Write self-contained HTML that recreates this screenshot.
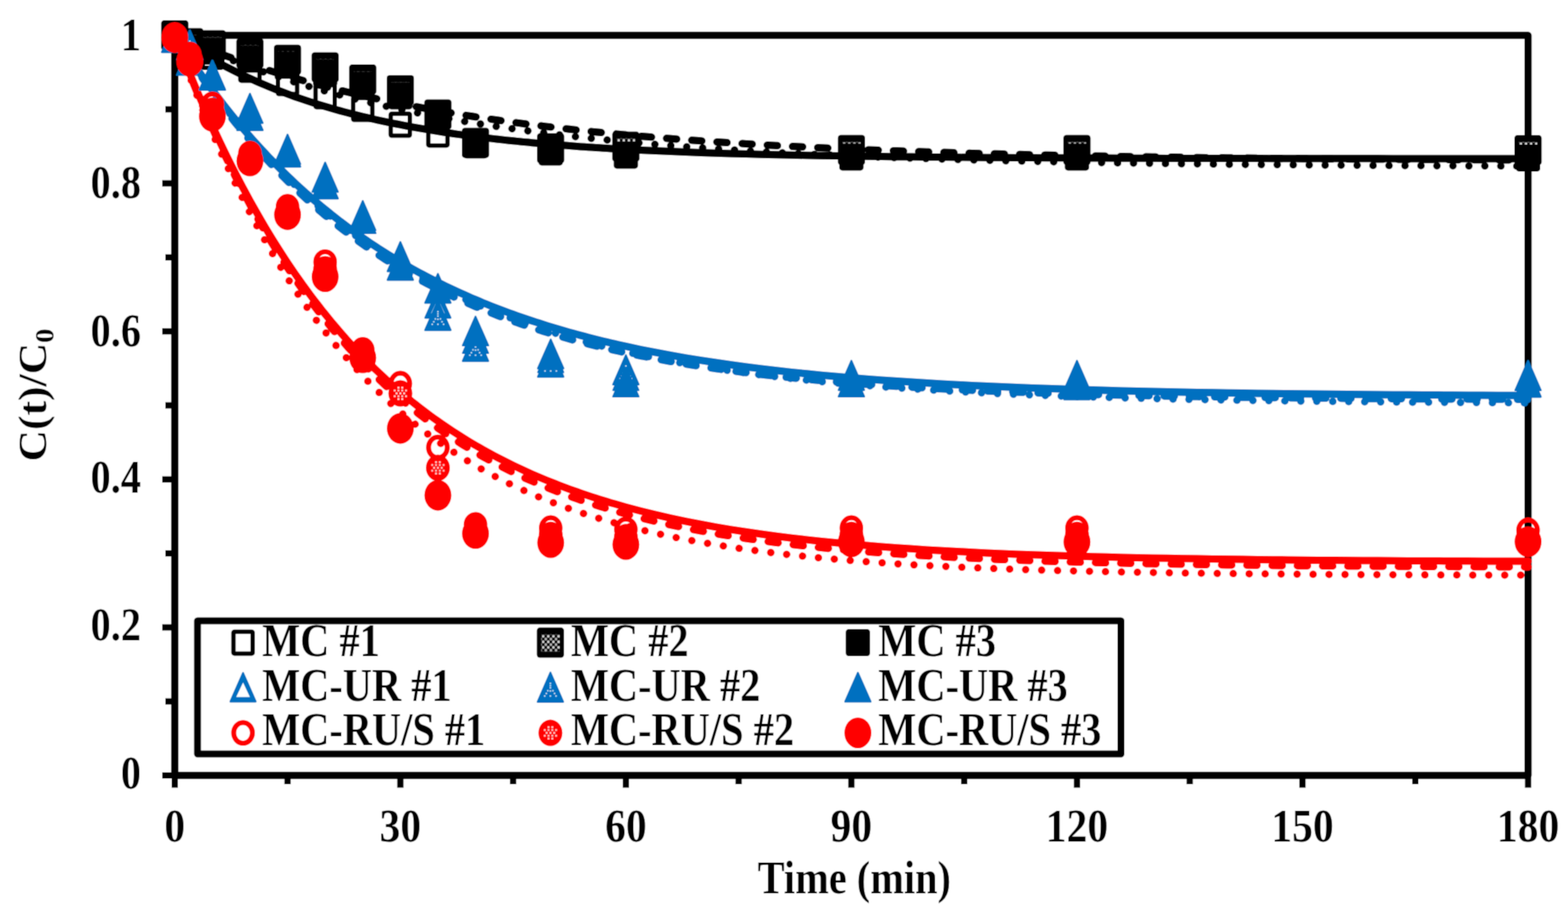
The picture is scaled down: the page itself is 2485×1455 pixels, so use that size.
<!DOCTYPE html><html><head><meta charset="utf-8"><style>html,body{margin:0;padding:0;background:#fff}svg{display:block}</style></head><body>
<svg width="2485" height="1455" viewBox="0 0 2485 1455">
<filter id="soft" x="0" y="0" width="100%" height="100%" filterUnits="userSpaceOnUse"><feConvolveMatrix order="3" kernelMatrix="1 2 1 2 4 2 1 2 1" divisor="16" edgeMode="duplicate" preserveAlpha="true"/></filter>
<g filter="url(#soft)">
<rect width="100%" height="100%" fill="#fff"/>
<defs>
<pattern id="pk" patternUnits="userSpaceOnUse" width="8.1" height="8.8"><rect width="8.1" height="8.8" fill="#000"/><rect x="0.2" y="0.2" width="3.6" height="4" fill="#fff"/><rect x="4.25" y="4.6" width="3.6" height="4" fill="#ddd"/></pattern>
</defs>
<g fill="none" stroke="#000" stroke-width="11.5" stroke-linejoin="round" stroke-linecap="butt">
<rect x="277.0" y="56" width="2144.7" height="1173.0"/>
</g>
<g stroke="#000" stroke-width="10">
<line x1="257" y1="1229.0" x2="277.0" y2="1229.0"/>
<line x1="262" y1="1111.7" x2="277.0" y2="1111.7"/>
<line x1="257" y1="994.4" x2="277.0" y2="994.4"/>
<line x1="262" y1="877.1" x2="277.0" y2="877.1"/>
<line x1="257" y1="759.8" x2="277.0" y2="759.8"/>
<line x1="262" y1="642.5" x2="277.0" y2="642.5"/>
<line x1="257" y1="525.2" x2="277.0" y2="525.2"/>
<line x1="262" y1="407.9" x2="277.0" y2="407.9"/>
<line x1="257" y1="290.6" x2="277.0" y2="290.6"/>
<line x1="262" y1="173.3" x2="277.0" y2="173.3"/>
<line x1="257" y1="56.0" x2="277.0" y2="56.0"/>
<line x1="277.0" y1="1229.0" x2="277.0" y2="1248.5"/>
<line x1="455.7" y1="1229.0" x2="455.7" y2="1243"/>
<line x1="634.5" y1="1229.0" x2="634.5" y2="1248.5"/>
<line x1="813.2" y1="1229.0" x2="813.2" y2="1243"/>
<line x1="991.9" y1="1229.0" x2="991.9" y2="1248.5"/>
<line x1="1170.6" y1="1229.0" x2="1170.6" y2="1243"/>
<line x1="1349.3" y1="1229.0" x2="1349.3" y2="1248.5"/>
<line x1="1528.1" y1="1229.0" x2="1528.1" y2="1243"/>
<line x1="1706.8" y1="1229.0" x2="1706.8" y2="1248.5"/>
<line x1="1885.5" y1="1229.0" x2="1885.5" y2="1243"/>
<line x1="2064.2" y1="1229.0" x2="2064.2" y2="1248.5"/>
<line x1="2243.0" y1="1229.0" x2="2243.0" y2="1243"/>
<line x1="2421.7" y1="1229.0" x2="2421.7" y2="1248.5"/>
</g>
<g id="lines">
<path d="M277.0,56.0 L283.0,60.2 L288.9,64.2 L294.9,68.2 L300.8,72.1 L306.8,75.9 L312.7,79.7 L318.7,83.3 L324.7,86.9 L330.6,90.4 L336.6,93.8 L342.5,97.2 L348.5,100.5 L354.4,103.7 L360.4,106.8 L366.4,109.9 L372.3,112.9 L378.3,115.9 L384.2,118.8 L390.2,121.6 L396.1,124.3 L402.1,127.0 L408.1,129.7 L414.0,132.3 L420.0,134.8 L425.9,137.3 L431.9,139.7 L437.9,142.1 L443.8,144.4 L449.8,146.7 L455.7,148.9 L461.7,151.1 L467.6,153.3 L473.6,155.4 L479.6,157.4 L485.5,159.4 L491.5,161.4 L497.4,163.3 L503.4,165.2 L509.3,167.0 L515.3,168.8 L521.3,170.6 L527.2,172.3 L533.2,174.0 L539.1,175.6 L545.1,177.2 L551.0,178.8 L557.0,180.4 L563.0,181.9 L568.9,183.4 L574.9,184.8 L580.8,186.2 L586.8,187.6 L592.7,189.0 L598.7,190.3 L604.7,191.6 L610.6,192.9 L616.6,194.1 L622.5,195.3 L628.5,196.5 L634.5,197.7 L640.4,198.9 L646.4,200.0 L652.3,201.1 L658.3,202.1 L664.2,203.2 L670.2,204.2 L676.2,205.2 L682.1,206.2 L688.1,207.2 L694.0,208.1 L700.0,209.0 L705.9,210.0 L711.9,210.8 L717.9,211.7 L723.8,212.6 L729.8,213.4 L735.7,214.2 L741.7,215.0 L747.6,215.8 L753.6,216.5 L759.6,217.3 L765.5,218.0 L771.5,218.7 L777.4,219.4 L783.4,220.1 L789.3,220.8 L795.3,221.4 L801.3,222.1 L807.2,222.7 L813.2,223.3 L819.1,223.9 L825.1,224.5 L831.0,225.1 L837.0,225.6 L843.0,226.2 L848.9,226.7 L854.9,227.2 L860.8,227.8 L866.8,228.3 L872.8,228.8 L878.7,229.2 L884.7,229.7 L890.6,230.2 L896.6,230.6 L902.5,231.1 L908.5,231.5 L914.5,231.9 L920.4,232.4 L926.4,232.8 L932.3,233.2 L938.3,233.6 L944.2,233.9 L950.2,234.3 L956.2,234.7 L962.1,235.0 L968.1,235.4 L974.0,235.7 L980.0,236.1 L985.9,236.4 L991.9,236.7 L1015.7,237.9 L1039.6,239.1 L1063.4,240.1 L1087.2,241.0 L1111.0,241.9 L1134.9,242.7 L1158.7,243.4 L1182.5,244.1 L1206.4,244.7 L1230.2,245.3 L1254.0,245.8 L1277.9,246.3 L1301.7,246.7 L1325.5,247.1 L1349.3,247.5 L1373.2,247.8 L1397.0,248.1 L1420.8,248.4 L1444.7,248.6 L1468.5,248.9 L1492.3,249.1 L1516.2,249.3 L1540.0,249.5 L1563.8,249.7 L1587.6,249.8 L1611.5,250.0 L1635.3,250.1 L1659.1,250.2 L1683.0,250.3 L1706.8,250.4 L1730.6,250.5 L1754.5,250.6 L1778.3,250.7 L1802.1,250.7 L1825.9,250.8 L1849.8,250.9 L1873.6,250.9 L1897.4,251.0 L1921.3,251.0 L1945.1,251.1 L1968.9,251.1 L1992.8,251.1 L2016.6,251.2 L2040.4,251.2 L2064.2,251.2 L2088.1,251.3 L2111.9,251.3 L2135.7,251.3 L2159.6,251.3 L2183.4,251.3 L2207.2,251.4 L2231.1,251.4 L2254.9,251.4 L2278.7,251.4 L2302.6,251.4 L2326.4,251.4 L2350.2,251.4 L2374.0,251.4 L2397.9,251.4 L2421.7,251.5" fill="none" stroke="#000000" stroke-width="12" stroke-linejoin="round" stroke-linecap="round"/>
<path d="M277.0,56.0 L283.0,58.6 L288.9,61.1 L294.9,63.7 L300.8,66.1 L306.8,68.6 L312.7,71.0 L318.7,73.4 L324.7,75.8 L330.6,78.1 L336.6,80.4 L342.5,82.7 L348.5,84.9 L354.4,87.1 L360.4,89.3 L366.4,91.5 L372.3,93.6 L378.3,95.7 L384.2,97.7 L390.2,99.8 L396.1,101.8 L402.1,103.8 L408.1,105.8 L414.0,107.7 L420.0,109.6 L425.9,111.5 L431.9,113.4 L437.9,115.2 L443.8,117.0 L449.8,118.8 L455.7,120.6 L461.7,122.3 L467.6,124.1 L473.6,125.8 L479.6,127.5 L485.5,129.1 L491.5,130.8 L497.4,132.4 L503.4,134.0 L509.3,135.5 L515.3,137.1 L521.3,138.6 L527.2,140.1 L533.2,141.6 L539.1,143.1 L545.1,144.6 L551.0,146.0 L557.0,147.4 L563.0,148.8 L568.9,150.2 L574.9,151.6 L580.8,152.9 L586.8,154.2 L592.7,155.6 L598.7,156.9 L604.7,158.1 L610.6,159.4 L616.6,160.6 L622.5,161.9 L628.5,163.1 L634.5,164.3 L640.4,165.5 L646.4,166.6 L652.3,167.8 L658.3,168.9 L664.2,170.0 L670.2,171.1 L676.2,172.2 L682.1,173.3 L688.1,174.4 L694.0,175.4 L700.0,176.5 L705.9,177.5 L711.9,178.5 L717.9,179.5 L723.8,180.5 L729.8,181.4 L735.7,182.4 L741.7,183.4 L747.6,184.3 L753.6,185.2 L759.6,186.1 L765.5,187.0 L771.5,187.9 L777.4,188.8 L783.4,189.6 L789.3,190.5 L795.3,191.3 L801.3,192.2 L807.2,193.0 L813.2,193.8 L819.1,194.6 L825.1,195.4 L831.0,196.2 L837.0,196.9 L843.0,197.7 L848.9,198.4 L854.9,199.2 L860.8,199.9 L866.8,200.6 L872.8,201.3 L878.7,202.0 L884.7,202.7 L890.6,203.4 L896.6,204.1 L902.5,204.8 L908.5,205.4 L914.5,206.1 L920.4,206.7 L926.4,207.3 L932.3,208.0 L938.3,208.6 L944.2,209.2 L950.2,209.8 L956.2,210.4 L962.1,210.9 L968.1,211.5 L974.0,212.1 L980.0,212.7 L985.9,213.2 L991.9,213.8 L1015.7,215.9 L1039.6,217.9 L1063.4,219.8 L1087.2,221.6 L1111.0,223.3 L1134.9,225.0 L1158.7,226.5 L1182.5,228.0 L1206.4,229.4 L1230.2,230.7 L1254.0,232.0 L1277.9,233.1 L1301.7,234.3 L1325.5,235.4 L1349.3,236.4 L1373.2,237.3 L1397.0,238.3 L1420.8,239.1 L1444.7,240.0 L1468.5,240.7 L1492.3,241.5 L1516.2,242.2 L1540.0,242.9 L1563.8,243.5 L1587.6,244.1 L1611.5,244.7 L1635.3,245.2 L1659.1,245.8 L1683.0,246.2 L1706.8,246.7 L1730.6,247.2 L1754.5,247.6 L1778.3,248.0 L1802.1,248.3 L1825.9,248.7 L1849.8,249.0 L1873.6,249.4 L1897.4,249.7 L1921.3,250.0 L1945.1,250.2 L1968.9,250.5 L1992.8,250.8 L2016.6,251.0 L2040.4,251.2 L2064.2,251.4 L2088.1,251.6 L2111.9,251.8 L2135.7,252.0 L2159.6,252.2 L2183.4,252.3 L2207.2,252.5 L2231.1,252.7 L2254.9,252.8 L2278.7,252.9 L2302.6,253.1 L2326.4,253.2 L2350.2,253.3 L2374.0,253.4 L2397.9,253.5 L2421.7,253.6" fill="none" stroke="#000000" stroke-width="12" stroke-dasharray="16 24" stroke-linejoin="round" stroke-linecap="round"/>
<path d="M277.0,56.0 L283.0,58.9 L288.9,61.7 L294.9,64.4 L300.8,67.2 L306.8,69.9 L312.7,72.5 L318.7,75.2 L324.7,77.7 L330.6,80.3 L336.6,82.8 L342.5,85.3 L348.5,87.8 L354.4,90.2 L360.4,92.6 L366.4,94.9 L372.3,97.2 L378.3,99.5 L384.2,101.8 L390.2,104.0 L396.1,106.2 L402.1,108.4 L408.1,110.5 L414.0,112.6 L420.0,114.7 L425.9,116.7 L431.9,118.8 L437.9,120.8 L443.8,122.7 L449.8,124.7 L455.7,126.6 L461.7,128.5 L467.6,130.3 L473.6,132.2 L479.6,134.0 L485.5,135.8 L491.5,137.5 L497.4,139.3 L503.4,141.0 L509.3,142.7 L515.3,144.3 L521.3,146.0 L527.2,147.6 L533.2,149.2 L539.1,150.8 L545.1,152.3 L551.0,153.9 L557.0,155.4 L563.0,156.9 L568.9,158.4 L574.9,159.8 L580.8,161.2 L586.8,162.7 L592.7,164.0 L598.7,165.4 L604.7,166.8 L610.6,168.1 L616.6,169.4 L622.5,170.7 L628.5,172.0 L634.5,173.3 L640.4,174.5 L646.4,175.8 L652.3,177.0 L658.3,178.2 L664.2,179.4 L670.2,180.5 L676.2,181.7 L682.1,182.8 L688.1,183.9 L694.0,185.0 L700.0,186.1 L705.9,187.2 L711.9,188.3 L717.9,189.3 L723.8,190.3 L729.8,191.4 L735.7,192.4 L741.7,193.4 L747.6,194.3 L753.6,195.3 L759.6,196.2 L765.5,197.2 L771.5,198.1 L777.4,199.0 L783.4,199.9 L789.3,200.8 L795.3,201.7 L801.3,202.5 L807.2,203.4 L813.2,204.2 L819.1,205.0 L825.1,205.9 L831.0,206.7 L837.0,207.5 L843.0,208.2 L848.9,209.0 L854.9,209.8 L860.8,210.5 L866.8,211.3 L872.8,212.0 L878.7,212.7 L884.7,213.4 L890.6,214.1 L896.6,214.8 L902.5,215.5 L908.5,216.2 L914.5,216.8 L920.4,217.5 L926.4,218.1 L932.3,218.8 L938.3,219.4 L944.2,220.0 L950.2,220.6 L956.2,221.2 L962.1,221.8 L968.1,222.4 L974.0,223.0 L980.0,223.6 L985.9,224.1 L991.9,224.7 L1015.7,226.8 L1039.6,228.9 L1063.4,230.8 L1087.2,232.6 L1111.0,234.3 L1134.9,236.0 L1158.7,237.5 L1182.5,239.0 L1206.4,240.4 L1230.2,241.7 L1254.0,242.9 L1277.9,244.1 L1301.7,245.2 L1325.5,246.2 L1349.3,247.2 L1373.2,248.2 L1397.0,249.1 L1420.8,249.9 L1444.7,250.7 L1468.5,251.4 L1492.3,252.2 L1516.2,252.8 L1540.0,253.5 L1563.8,254.1 L1587.6,254.7 L1611.5,255.2 L1635.3,255.7 L1659.1,256.2 L1683.0,256.7 L1706.8,257.1 L1730.6,257.5 L1754.5,257.9 L1778.3,258.3 L1802.1,258.6 L1825.9,258.9 L1849.8,259.3 L1873.6,259.6 L1897.4,259.8 L1921.3,260.1 L1945.1,260.4 L1968.9,260.6 L1992.8,260.8 L2016.6,261.0 L2040.4,261.2 L2064.2,261.4 L2088.1,261.6 L2111.9,261.8 L2135.7,261.9 L2159.6,262.1 L2183.4,262.2 L2207.2,262.4 L2231.1,262.5 L2254.9,262.6 L2278.7,262.7 L2302.6,262.8 L2326.4,263.0 L2350.2,263.0 L2374.0,263.1 L2397.9,263.2 L2421.7,263.3" fill="none" stroke="#000000" stroke-width="12" stroke-dasharray="0.01 25.3" stroke-linecap="round"/>
<path d="M277.0,56.0 L283.0,65.3 L288.9,74.5 L294.9,83.6 L300.8,92.5 L306.8,101.2 L312.7,109.8 L318.7,118.3 L324.7,126.6 L330.6,134.8 L336.6,142.8 L342.5,150.7 L348.5,158.5 L354.4,166.2 L360.4,173.8 L366.4,181.2 L372.3,188.5 L378.3,195.6 L384.2,202.7 L390.2,209.7 L396.1,216.5 L402.1,223.2 L408.1,229.8 L414.0,236.3 L420.0,242.7 L425.9,249.0 L431.9,255.2 L437.9,261.3 L443.8,267.3 L449.8,273.2 L455.7,279.0 L461.7,284.7 L467.6,290.3 L473.6,295.8 L479.6,301.2 L485.5,306.6 L491.5,311.8 L497.4,317.0 L503.4,322.1 L509.3,327.1 L515.3,332.0 L521.3,336.8 L527.2,341.6 L533.2,346.2 L539.1,350.9 L545.1,355.4 L551.0,359.8 L557.0,364.2 L563.0,368.5 L568.9,372.8 L574.9,376.9 L580.8,381.0 L586.8,385.1 L592.7,389.0 L598.7,393.0 L604.7,396.8 L610.6,400.6 L616.6,404.3 L622.5,407.9 L628.5,411.5 L634.5,415.1 L640.4,418.6 L646.4,422.0 L652.3,425.4 L658.3,428.7 L664.2,431.9 L670.2,435.1 L676.2,438.3 L682.1,441.4 L688.1,444.4 L694.0,447.4 L700.0,450.4 L705.9,453.3 L711.9,456.2 L717.9,459.0 L723.8,461.7 L729.8,464.5 L735.7,467.1 L741.7,469.8 L747.6,472.4 L753.6,474.9 L759.6,477.4 L765.5,479.9 L771.5,482.3 L777.4,484.7 L783.4,487.0 L789.3,489.3 L795.3,491.6 L801.3,493.8 L807.2,496.0 L813.2,498.2 L819.1,500.3 L825.1,502.4 L831.0,504.5 L837.0,506.5 L843.0,508.5 L848.9,510.4 L854.9,512.3 L860.8,514.2 L866.8,516.1 L872.8,517.9 L878.7,519.7 L884.7,521.5 L890.6,523.3 L896.6,525.0 L902.5,526.7 L908.5,528.3 L914.5,530.0 L920.4,531.6 L926.4,533.1 L932.3,534.7 L938.3,536.2 L944.2,537.7 L950.2,539.2 L956.2,540.7 L962.1,542.1 L968.1,543.5 L974.0,544.9 L980.0,546.3 L985.9,547.6 L991.9,548.9 L1015.7,554.0 L1039.6,558.7 L1063.4,563.2 L1087.2,567.3 L1111.0,571.2 L1134.9,574.8 L1158.7,578.3 L1182.5,581.5 L1206.4,584.4 L1230.2,587.2 L1254.0,589.9 L1277.9,592.3 L1301.7,594.6 L1325.5,596.8 L1349.3,598.8 L1373.2,600.7 L1397.0,602.4 L1420.8,604.1 L1444.7,605.6 L1468.5,607.1 L1492.3,608.5 L1516.2,609.7 L1540.0,610.9 L1563.8,612.0 L1587.6,613.1 L1611.5,614.1 L1635.3,615.0 L1659.1,615.8 L1683.0,616.6 L1706.8,617.4 L1730.6,618.1 L1754.5,618.7 L1778.3,619.4 L1802.1,619.9 L1825.9,620.5 L1849.8,621.0 L1873.6,621.5 L1897.4,621.9 L1921.3,622.3 L1945.1,622.7 L1968.9,623.1 L1992.8,623.4 L2016.6,623.7 L2040.4,624.0 L2064.2,624.3 L2088.1,624.6 L2111.9,624.8 L2135.7,625.0 L2159.6,625.3 L2183.4,625.5 L2207.2,625.7 L2231.1,625.8 L2254.9,626.0 L2278.7,626.1 L2302.6,626.3 L2326.4,626.4 L2350.2,626.6 L2374.0,626.7 L2397.9,626.8 L2421.7,626.9" fill="none" stroke="#0070C0" stroke-width="12" stroke-linejoin="round" stroke-linecap="round"/>
<path d="M277.0,56.0 L283.0,65.7 L288.9,75.3 L294.9,84.8 L300.8,94.0 L306.8,103.1 L312.7,112.1 L318.7,120.9 L324.7,129.5 L330.6,138.0 L336.6,146.4 L342.5,154.6 L348.5,162.7 L354.4,170.7 L360.4,178.5 L366.4,186.2 L372.3,193.7 L378.3,201.1 L384.2,208.4 L390.2,215.6 L396.1,222.7 L402.1,229.6 L408.1,236.4 L414.0,243.1 L420.0,249.7 L425.9,256.2 L431.9,262.6 L437.9,268.9 L443.8,275.0 L449.8,281.1 L455.7,287.0 L461.7,292.9 L467.6,298.6 L473.6,304.3 L479.6,309.9 L485.5,315.3 L491.5,320.7 L497.4,326.0 L503.4,331.2 L509.3,336.3 L515.3,341.3 L521.3,346.3 L527.2,351.1 L533.2,355.9 L539.1,360.6 L545.1,365.2 L551.0,369.7 L557.0,374.2 L563.0,378.6 L568.9,382.9 L574.9,387.1 L580.8,391.3 L586.8,395.4 L592.7,399.4 L598.7,403.4 L604.7,407.3 L610.6,411.1 L616.6,414.9 L622.5,418.5 L628.5,422.2 L634.5,425.8 L640.4,429.3 L646.4,432.7 L652.3,436.1 L658.3,439.5 L664.2,442.8 L670.2,446.0 L676.2,449.2 L682.1,452.3 L688.1,455.3 L694.0,458.4 L700.0,461.3 L705.9,464.2 L711.9,467.1 L717.9,469.9 L723.8,472.7 L729.8,475.4 L735.7,478.1 L741.7,480.7 L747.6,483.3 L753.6,485.9 L759.6,488.4 L765.5,490.8 L771.5,493.2 L777.4,495.6 L783.4,498.0 L789.3,500.3 L795.3,502.5 L801.3,504.7 L807.2,506.9 L813.2,509.1 L819.1,511.2 L825.1,513.3 L831.0,515.3 L837.0,517.3 L843.0,519.3 L848.9,521.2 L854.9,523.1 L860.8,525.0 L866.8,526.8 L872.8,528.6 L878.7,530.4 L884.7,532.2 L890.6,533.9 L896.6,535.6 L902.5,537.3 L908.5,538.9 L914.5,540.5 L920.4,542.1 L926.4,543.6 L932.3,545.2 L938.3,546.7 L944.2,548.1 L950.2,549.6 L956.2,551.0 L962.1,552.4 L968.1,553.8 L974.0,555.2 L980.0,556.5 L985.9,557.8 L991.9,559.1 L1015.7,564.0 L1039.6,568.7 L1063.4,573.0 L1087.2,577.0 L1111.0,580.8 L1134.9,584.3 L1158.7,587.6 L1182.5,590.6 L1206.4,593.5 L1230.2,596.2 L1254.0,598.7 L1277.9,601.0 L1301.7,603.2 L1325.5,605.3 L1349.3,607.2 L1373.2,609.0 L1397.0,610.6 L1420.8,612.2 L1444.7,613.6 L1468.5,615.0 L1492.3,616.3 L1516.2,617.4 L1540.0,618.6 L1563.8,619.6 L1587.6,620.6 L1611.5,621.5 L1635.3,622.3 L1659.1,623.1 L1683.0,623.8 L1706.8,624.5 L1730.6,625.2 L1754.5,625.8 L1778.3,626.3 L1802.1,626.8 L1825.9,627.3 L1849.8,627.8 L1873.6,628.2 L1897.4,628.6 L1921.3,629.0 L1945.1,629.3 L1968.9,629.7 L1992.8,630.0 L2016.6,630.2 L2040.4,630.5 L2064.2,630.8 L2088.1,631.0 L2111.9,631.2 L2135.7,631.4 L2159.6,631.6 L2183.4,631.8 L2207.2,631.9 L2231.1,632.1 L2254.9,632.2 L2278.7,632.4 L2302.6,632.5 L2326.4,632.6 L2350.2,632.7 L2374.0,632.8 L2397.9,632.9 L2421.7,633.0" fill="none" stroke="#0070C0" stroke-width="12" stroke-dasharray="16 24" stroke-linejoin="round" stroke-linecap="round"/>
<path d="M277.0,56.0 L283.0,65.4 L288.9,74.7 L294.9,83.9 L300.8,92.9 L306.8,101.7 L312.7,110.4 L318.7,119.0 L324.7,127.4 L330.6,135.7 L336.6,143.9 L342.5,151.9 L348.5,159.8 L354.4,167.5 L360.4,175.2 L366.4,182.7 L372.3,190.1 L378.3,197.4 L384.2,204.5 L390.2,211.6 L396.1,218.5 L402.1,225.3 L408.1,232.0 L414.0,238.6 L420.0,245.1 L425.9,251.5 L431.9,257.8 L437.9,264.0 L443.8,270.1 L449.8,276.0 L455.7,281.9 L461.7,287.7 L467.6,293.4 L473.6,299.0 L479.6,304.5 L485.5,310.0 L491.5,315.3 L497.4,320.6 L503.4,325.7 L509.3,330.8 L515.3,335.8 L521.3,340.7 L527.2,345.6 L533.2,350.3 L539.1,355.0 L545.1,359.6 L551.0,364.2 L557.0,368.6 L563.0,373.0 L568.9,377.3 L574.9,381.6 L580.8,385.8 L586.8,389.9 L592.7,393.9 L598.7,397.9 L604.7,401.8 L610.6,405.7 L616.6,409.5 L622.5,413.2 L628.5,416.9 L634.5,420.5 L640.4,424.0 L646.4,427.5 L652.3,431.0 L658.3,434.3 L664.2,437.7 L670.2,440.9 L676.2,444.2 L682.1,447.3 L688.1,450.5 L694.0,453.5 L700.0,456.5 L705.9,459.5 L711.9,462.4 L717.9,465.3 L723.8,468.1 L729.8,470.9 L735.7,473.6 L741.7,476.3 L747.6,479.0 L753.6,481.6 L759.6,484.2 L765.5,486.7 L771.5,489.2 L777.4,491.6 L783.4,494.0 L789.3,496.4 L795.3,498.7 L801.3,501.0 L807.2,503.2 L813.2,505.4 L819.1,507.6 L825.1,509.8 L831.0,511.9 L837.0,513.9 L843.0,516.0 L848.9,518.0 L854.9,520.0 L860.8,521.9 L866.8,523.8 L872.8,525.7 L878.7,527.6 L884.7,529.4 L890.6,531.2 L896.6,532.9 L902.5,534.7 L908.5,536.4 L914.5,538.0 L920.4,539.7 L926.4,541.3 L932.3,542.9 L938.3,544.5 L944.2,546.0 L950.2,547.6 L956.2,549.1 L962.1,550.5 L968.1,552.0 L974.0,553.4 L980.0,554.8 L985.9,556.2 L991.9,557.5 L1015.7,562.8 L1039.6,567.6 L1063.4,572.2 L1087.2,576.5 L1111.0,580.5 L1134.9,584.3 L1158.7,587.8 L1182.5,591.1 L1206.4,594.2 L1230.2,597.1 L1254.0,599.8 L1277.9,602.4 L1301.7,604.8 L1325.5,607.0 L1349.3,609.1 L1373.2,611.0 L1397.0,612.9 L1420.8,614.6 L1444.7,616.2 L1468.5,617.7 L1492.3,619.1 L1516.2,620.5 L1540.0,621.7 L1563.8,622.9 L1587.6,624.0 L1611.5,625.0 L1635.3,625.9 L1659.1,626.8 L1683.0,627.7 L1706.8,628.5 L1730.6,629.2 L1754.5,629.9 L1778.3,630.5 L1802.1,631.2 L1825.9,631.7 L1849.8,632.3 L1873.6,632.8 L1897.4,633.2 L1921.3,633.7 L1945.1,634.1 L1968.9,634.5 L1992.8,634.8 L2016.6,635.1 L2040.4,635.5 L2064.2,635.8 L2088.1,636.0 L2111.9,636.3 L2135.7,636.5 L2159.6,636.8 L2183.4,637.0 L2207.2,637.2 L2231.1,637.4 L2254.9,637.5 L2278.7,637.7 L2302.6,637.9 L2326.4,638.0 L2350.2,638.1 L2374.0,638.3 L2397.9,638.4 L2421.7,638.5" fill="none" stroke="#0070C0" stroke-width="12" stroke-dasharray="0.01 25.3" stroke-linecap="round"/>
<path d="M277.0,56.0 L283.0,71.6 L288.9,86.9 L294.9,101.9 L300.8,116.6 L306.8,131.1 L312.7,145.2 L318.7,159.2 L324.7,172.8 L330.6,186.2 L336.6,199.4 L342.5,212.3 L348.5,225.0 L354.4,237.4 L360.4,249.6 L366.4,261.6 L372.3,273.3 L378.3,284.8 L384.2,296.1 L390.2,307.2 L396.1,318.1 L402.1,328.8 L408.1,339.3 L414.0,349.6 L420.0,359.7 L425.9,369.6 L431.9,379.3 L437.9,388.9 L443.8,398.3 L449.8,407.5 L455.7,416.5 L461.7,425.3 L467.6,434.0 L473.6,442.5 L479.6,450.9 L485.5,459.1 L491.5,467.2 L497.4,475.1 L503.4,482.8 L509.3,490.5 L515.3,497.9 L521.3,505.3 L527.2,512.5 L533.2,519.5 L539.1,526.4 L545.1,533.2 L551.0,539.9 L557.0,546.5 L563.0,552.9 L568.9,559.2 L574.9,565.4 L580.8,571.5 L586.8,577.4 L592.7,583.3 L598.7,589.0 L604.7,594.6 L610.6,600.2 L616.6,605.6 L622.5,610.9 L628.5,616.1 L634.5,621.3 L640.4,626.3 L646.4,631.2 L652.3,636.1 L658.3,640.8 L664.2,645.5 L670.2,650.1 L676.2,654.6 L682.1,659.0 L688.1,663.3 L694.0,667.5 L700.0,671.7 L705.9,675.8 L711.9,679.8 L717.9,683.7 L723.8,687.6 L729.8,691.4 L735.7,695.1 L741.7,698.8 L747.6,702.3 L753.6,705.9 L759.6,709.3 L765.5,712.7 L771.5,716.0 L777.4,719.3 L783.4,722.5 L789.3,725.6 L795.3,728.7 L801.3,731.7 L807.2,734.7 L813.2,737.6 L819.1,740.4 L825.1,743.2 L831.0,746.0 L837.0,748.7 L843.0,751.4 L848.9,754.0 L854.9,756.5 L860.8,759.0 L866.8,761.5 L872.8,763.9 L878.7,766.2 L884.7,768.6 L890.6,770.8 L896.6,773.1 L902.5,775.3 L908.5,777.4 L914.5,779.5 L920.4,781.6 L926.4,783.6 L932.3,785.6 L938.3,787.6 L944.2,789.5 L950.2,791.4 L956.2,793.3 L962.1,795.1 L968.1,796.9 L974.0,798.6 L980.0,800.3 L985.9,802.0 L991.9,803.7 L1015.7,810.0 L1039.6,815.8 L1063.4,821.3 L1087.2,826.3 L1111.0,831.0 L1134.9,835.3 L1158.7,839.3 L1182.5,843.0 L1206.4,846.5 L1230.2,849.7 L1254.0,852.7 L1277.9,855.4 L1301.7,858.0 L1325.5,860.3 L1349.3,862.5 L1373.2,864.6 L1397.0,866.5 L1420.8,868.2 L1444.7,869.8 L1468.5,871.4 L1492.3,872.7 L1516.2,874.0 L1540.0,875.2 L1563.8,876.4 L1587.6,877.4 L1611.5,878.4 L1635.3,879.2 L1659.1,880.1 L1683.0,880.8 L1706.8,881.5 L1730.6,882.2 L1754.5,882.8 L1778.3,883.4 L1802.1,883.9 L1825.9,884.4 L1849.8,884.8 L1873.6,885.2 L1897.4,885.6 L1921.3,886.0 L1945.1,886.3 L1968.9,886.6 L1992.8,886.9 L2016.6,887.2 L2040.4,887.4 L2064.2,887.7 L2088.1,887.9 L2111.9,888.1 L2135.7,888.3 L2159.6,888.4 L2183.4,888.6 L2207.2,888.7 L2231.1,888.9 L2254.9,889.0 L2278.7,889.1 L2302.6,889.2 L2326.4,889.3 L2350.2,889.4 L2374.0,889.5 L2397.9,889.6 L2421.7,889.6" fill="none" stroke="#FF0000" stroke-width="12" stroke-linejoin="round" stroke-linecap="round"/>
<path d="M277.0,56.0 L283.0,72.0 L288.9,87.7 L294.9,103.1 L300.8,118.2 L306.8,133.0 L312.7,147.5 L318.7,161.8 L324.7,175.8 L330.6,189.5 L336.6,203.0 L342.5,216.2 L348.5,229.2 L354.4,241.9 L360.4,254.3 L366.4,266.6 L372.3,278.6 L378.3,290.4 L384.2,301.9 L390.2,313.2 L396.1,324.4 L402.1,335.3 L408.1,346.0 L414.0,356.5 L420.0,366.8 L425.9,376.9 L431.9,386.8 L437.9,396.5 L443.8,406.0 L449.8,415.4 L455.7,424.6 L461.7,433.6 L467.6,442.4 L473.6,451.1 L479.6,459.6 L485.5,467.9 L491.5,476.1 L497.4,484.1 L503.4,492.0 L509.3,499.7 L515.3,507.3 L521.3,514.8 L527.2,522.1 L533.2,529.2 L539.1,536.2 L545.1,543.1 L551.0,549.9 L557.0,556.5 L563.0,563.0 L568.9,569.4 L574.9,575.7 L580.8,581.8 L586.8,587.8 L592.7,593.7 L598.7,599.5 L604.7,605.2 L610.6,610.8 L616.6,616.3 L622.5,621.6 L628.5,626.9 L634.5,632.1 L640.4,637.1 L646.4,642.1 L652.3,647.0 L658.3,651.8 L664.2,656.5 L670.2,661.1 L676.2,665.6 L682.1,670.0 L688.1,674.4 L694.0,678.7 L700.0,682.8 L705.9,687.0 L711.9,691.0 L717.9,694.9 L723.8,698.8 L729.8,702.6 L735.7,706.4 L741.7,710.0 L747.6,713.6 L753.6,717.1 L759.6,720.6 L765.5,724.0 L771.5,727.3 L777.4,730.6 L783.4,733.8 L789.3,736.9 L795.3,740.0 L801.3,743.0 L807.2,746.0 L813.2,748.9 L819.1,751.7 L825.1,754.5 L831.0,757.3 L837.0,760.0 L843.0,762.6 L848.9,765.2 L854.9,767.8 L860.8,770.3 L866.8,772.7 L872.8,775.1 L878.7,777.5 L884.7,779.8 L890.6,782.1 L896.6,784.3 L902.5,786.5 L908.5,788.6 L914.5,790.7 L920.4,792.8 L926.4,794.8 L932.3,796.8 L938.3,798.7 L944.2,800.6 L950.2,802.5 L956.2,804.3 L962.1,806.1 L968.1,807.9 L974.0,809.7 L980.0,811.4 L985.9,813.0 L991.9,814.7 L1015.7,820.9 L1039.6,826.7 L1063.4,832.1 L1087.2,837.0 L1111.0,841.6 L1134.9,845.9 L1158.7,849.8 L1182.5,853.5 L1206.4,856.9 L1230.2,860.0 L1254.0,862.9 L1277.9,865.6 L1301.7,868.1 L1325.5,870.4 L1349.3,872.5 L1373.2,874.5 L1397.0,876.3 L1420.8,878.0 L1444.7,879.6 L1468.5,881.1 L1492.3,882.4 L1516.2,883.7 L1540.0,884.8 L1563.8,885.9 L1587.6,886.9 L1611.5,887.8 L1635.3,888.7 L1659.1,889.5 L1683.0,890.2 L1706.8,890.9 L1730.6,891.5 L1754.5,892.1 L1778.3,892.6 L1802.1,893.1 L1825.9,893.6 L1849.8,894.0 L1873.6,894.4 L1897.4,894.8 L1921.3,895.1 L1945.1,895.4 L1968.9,895.7 L1992.8,896.0 L2016.6,896.2 L2040.4,896.5 L2064.2,896.7 L2088.1,896.9 L2111.9,897.1 L2135.7,897.2 L2159.6,897.4 L2183.4,897.5 L2207.2,897.7 L2231.1,897.8 L2254.9,897.9 L2278.7,898.0 L2302.6,898.1 L2326.4,898.2 L2350.2,898.3 L2374.0,898.4 L2397.9,898.5 L2421.7,898.5" fill="none" stroke="#FF0000" stroke-width="12" stroke-dasharray="16 24" stroke-linejoin="round" stroke-linecap="round"/>
<path d="M277.0,56.0 L283.0,72.9 L288.9,89.4 L294.9,105.6 L300.8,121.5 L306.8,137.1 L312.7,152.4 L318.7,167.3 L324.7,182.0 L330.6,196.4 L336.6,210.5 L342.5,224.3 L348.5,237.9 L354.4,251.2 L360.4,264.2 L366.4,277.0 L372.3,289.5 L378.3,301.8 L384.2,313.8 L390.2,325.6 L396.1,337.2 L402.1,348.5 L408.1,359.6 L414.0,370.5 L420.0,381.2 L425.9,391.6 L431.9,401.9 L437.9,411.9 L443.8,421.8 L449.8,431.5 L455.7,440.9 L461.7,450.2 L467.6,459.3 L473.6,468.3 L479.6,477.0 L485.5,485.6 L491.5,494.0 L497.4,502.2 L503.4,510.3 L509.3,518.2 L515.3,526.0 L521.3,533.6 L527.2,541.1 L533.2,548.4 L539.1,555.5 L545.1,562.6 L551.0,569.5 L557.0,576.2 L563.0,582.8 L568.9,589.3 L574.9,595.7 L580.8,601.9 L586.8,608.1 L592.7,614.0 L598.7,619.9 L604.7,625.7 L610.6,631.3 L616.6,636.9 L622.5,642.3 L628.5,647.6 L634.5,652.8 L640.4,657.9 L646.4,663.0 L652.3,667.9 L658.3,672.7 L664.2,677.4 L670.2,682.0 L676.2,686.6 L682.1,691.0 L688.1,695.4 L694.0,699.6 L700.0,703.8 L705.9,707.9 L711.9,712.0 L717.9,715.9 L723.8,719.8 L729.8,723.6 L735.7,727.3 L741.7,730.9 L747.6,734.5 L753.6,738.0 L759.6,741.5 L765.5,744.8 L771.5,748.1 L777.4,751.4 L783.4,754.5 L789.3,757.6 L795.3,760.7 L801.3,763.7 L807.2,766.6 L813.2,769.5 L819.1,772.3 L825.1,775.0 L831.0,777.7 L837.0,780.4 L843.0,783.0 L848.9,785.5 L854.9,788.0 L860.8,790.5 L866.8,792.9 L872.8,795.2 L878.7,797.5 L884.7,799.8 L890.6,802.0 L896.6,804.2 L902.5,806.3 L908.5,808.4 L914.5,810.5 L920.4,812.5 L926.4,814.4 L932.3,816.4 L938.3,818.3 L944.2,820.1 L950.2,821.9 L956.2,823.7 L962.1,825.4 L968.1,827.2 L974.0,828.8 L980.0,830.5 L985.9,832.1 L991.9,833.7 L1015.7,839.7 L1039.6,845.2 L1063.4,850.4 L1087.2,855.1 L1111.0,859.5 L1134.9,863.5 L1158.7,867.3 L1182.5,870.7 L1206.4,873.9 L1230.2,876.8 L1254.0,879.5 L1277.9,882.0 L1301.7,884.4 L1325.5,886.5 L1349.3,888.5 L1373.2,890.3 L1397.0,892.0 L1420.8,893.5 L1444.7,895.0 L1468.5,896.3 L1492.3,897.5 L1516.2,898.6 L1540.0,899.7 L1563.8,900.7 L1587.6,901.5 L1611.5,902.4 L1635.3,903.1 L1659.1,903.8 L1683.0,904.5 L1706.8,905.1 L1730.6,905.6 L1754.5,906.1 L1778.3,906.6 L1802.1,907.0 L1825.9,907.4 L1849.8,907.8 L1873.6,908.2 L1897.4,908.5 L1921.3,908.8 L1945.1,909.0 L1968.9,909.3 L1992.8,909.5 L2016.6,909.7 L2040.4,909.9 L2064.2,910.1 L2088.1,910.3 L2111.9,910.4 L2135.7,910.6 L2159.6,910.7 L2183.4,910.8 L2207.2,910.9 L2231.1,911.0 L2254.9,911.1 L2278.7,911.2 L2302.6,911.3 L2326.4,911.4 L2350.2,911.4 L2374.0,911.5 L2397.9,911.6 L2421.7,911.6" fill="none" stroke="#FF0000" stroke-width="12" stroke-dasharray="0.01 25.3" stroke-linecap="round"/>
</g>
<g id="markers">
<rect x="261.8" y="38.6" width="30.4" height="34.8" rx="1.5" fill="none" stroke="#000" stroke-width="7" stroke-linejoin="round"/>
<rect x="285.6" y="56.2" width="30.4" height="34.8" rx="1.5" fill="none" stroke="#000" stroke-width="7" stroke-linejoin="round"/>
<rect x="321.4" y="72.6" width="30.4" height="34.8" rx="1.5" fill="none" stroke="#000" stroke-width="7" stroke-linejoin="round"/>
<rect x="380.9" y="93.1" width="30.4" height="34.8" rx="1.5" fill="none" stroke="#000" stroke-width="7" stroke-linejoin="round"/>
<rect x="440.5" y="114.3" width="30.4" height="34.8" rx="1.5" fill="none" stroke="#000" stroke-width="7" stroke-linejoin="round"/>
<rect x="500.1" y="135.1" width="30.4" height="34.8" rx="1.5" fill="none" stroke="#000" stroke-width="7" stroke-linejoin="round"/>
<rect x="559.7" y="155.3" width="30.4" height="34.8" rx="1.5" fill="none" stroke="#000" stroke-width="7" stroke-linejoin="round"/>
<rect x="619.2" y="180.3" width="30.4" height="34.8" rx="1.5" fill="none" stroke="#000" stroke-width="7" stroke-linejoin="round"/>
<rect x="678.8" y="195.9" width="30.4" height="34.8" rx="1.5" fill="none" stroke="#000" stroke-width="7" stroke-linejoin="round"/>
<rect x="738.4" y="212.4" width="30.4" height="34.8" rx="1.5" fill="none" stroke="#000" stroke-width="7" stroke-linejoin="round"/>
<rect x="857.5" y="223.6" width="30.4" height="34.8" rx="1.5" fill="none" stroke="#000" stroke-width="7" stroke-linejoin="round"/>
<rect x="976.7" y="228.6" width="30.4" height="34.8" rx="1.5" fill="none" stroke="#000" stroke-width="7" stroke-linejoin="round"/>
<rect x="1334.1" y="231.6" width="30.4" height="34.8" rx="1.5" fill="none" stroke="#000" stroke-width="7" stroke-linejoin="round"/>
<rect x="1691.6" y="231.6" width="30.4" height="34.8" rx="1.5" fill="none" stroke="#000" stroke-width="7" stroke-linejoin="round"/>
<rect x="2406.5" y="231.8" width="30.4" height="34.8" rx="1.5" fill="none" stroke="#000" stroke-width="7" stroke-linejoin="round"/>
<rect x="255.4" y="32.0" width="43.2" height="48" rx="5" fill="#000"/><g transform="translate(263.6,43.7)"><rect x="-1.2" y="-0.7" width="29.5" height="27.5" fill="url(#pk)" opacity="0.85"/></g>
<rect x="279.2" y="44.4" width="43.2" height="48" rx="5" fill="#000"/><g transform="translate(287.4,56.1)"><rect x="-1.2" y="-0.7" width="29.5" height="27.5" fill="url(#pk)" opacity="0.85"/></g>
<rect x="315.0" y="47.7" width="43.2" height="48" rx="5" fill="#000"/><g transform="translate(323.2,59.4)"><rect x="-1.2" y="-0.7" width="29.5" height="27.5" fill="url(#pk)" opacity="0.85"/></g>
<rect x="374.5" y="60.7" width="43.2" height="48" rx="5" fill="#000"/><g transform="translate(382.8,72.4)"><rect x="-1.2" y="-0.7" width="29.5" height="27.5" fill="url(#pk)" opacity="0.85"/></g>
<rect x="434.1" y="70.7" width="43.2" height="48" rx="5" fill="#000"/><g transform="translate(442.3,82.4)"><rect x="-1.2" y="-0.7" width="29.5" height="27.5" fill="url(#pk)" opacity="0.85"/></g>
<rect x="493.7" y="82.7" width="43.2" height="48" rx="5" fill="#000"/><g transform="translate(501.9,94.4)"><rect x="-1.2" y="-0.7" width="29.5" height="27.5" fill="url(#pk)" opacity="0.85"/></g>
<rect x="553.3" y="102.0" width="43.2" height="48" rx="5" fill="#000"/><g transform="translate(561.5,113.7)"><rect x="-1.2" y="-0.7" width="29.5" height="27.5" fill="url(#pk)" opacity="0.85"/></g>
<rect x="612.9" y="118.9" width="43.2" height="48" rx="5" fill="#000"/><g transform="translate(621.1,130.6)"><rect x="-1.2" y="-0.7" width="29.5" height="27.5" fill="url(#pk)" opacity="0.85"/></g>
<rect x="672.4" y="157.4" width="43.2" height="48" rx="5" fill="#000"/><g transform="translate(680.6,169.1)"><rect x="-1.2" y="-0.7" width="29.5" height="27.5" fill="url(#pk)" opacity="0.85"/></g>
<rect x="732.0" y="202.4" width="43.2" height="48" rx="5" fill="#000"/><g transform="translate(740.2,214.1)"><rect x="-1.2" y="-0.7" width="29.5" height="27.5" fill="url(#pk)" opacity="0.85"/></g>
<rect x="851.1" y="211.0" width="43.2" height="48" rx="5" fill="#000"/><g transform="translate(859.4,222.7)"><rect x="-1.2" y="-0.7" width="29.5" height="27.5" fill="url(#pk)" opacity="0.85"/></g>
<rect x="970.3" y="208.5" width="43.2" height="48" rx="5" fill="#000"/><g transform="translate(978.5,220.2)"><rect x="-1.2" y="-0.7" width="29.5" height="27.5" fill="url(#pk)" opacity="0.85"/></g>
<rect x="1327.8" y="213.8" width="43.2" height="48" rx="5" fill="#000"/><g transform="translate(1335.9,225.5)"><rect x="-1.2" y="-0.7" width="29.5" height="27.5" fill="url(#pk)" opacity="0.85"/></g>
<rect x="1685.2" y="213.8" width="43.2" height="48" rx="5" fill="#000"/><g transform="translate(1693.4,225.5)"><rect x="-1.2" y="-0.7" width="29.5" height="27.5" fill="url(#pk)" opacity="0.85"/></g>
<rect x="2400.1" y="214.0" width="43.2" height="48" rx="5" fill="#000"/><g transform="translate(2408.3,225.7)"><rect x="-1.2" y="-0.7" width="29.5" height="27.5" fill="url(#pk)" opacity="0.85"/></g>
<rect x="257.7" y="34.5" width="38.6" height="43" rx="5" fill="#000"/>
<rect x="281.5" y="55.6" width="38.6" height="43" rx="5" fill="#000"/>
<rect x="317.3" y="59.5" width="38.6" height="43" rx="5" fill="#000"/>
<rect x="376.8" y="72.2" width="38.6" height="43" rx="5" fill="#000"/>
<rect x="436.4" y="82.1" width="38.6" height="43" rx="5" fill="#000"/>
<rect x="496.0" y="94.2" width="38.6" height="43" rx="5" fill="#000"/>
<rect x="555.6" y="113.4" width="38.6" height="43" rx="5" fill="#000"/>
<rect x="615.2" y="130.5" width="38.6" height="43" rx="5" fill="#000"/>
<rect x="674.7" y="165.5" width="38.6" height="43" rx="5" fill="#000"/>
<rect x="734.3" y="208.3" width="38.6" height="43" rx="5" fill="#000"/>
<rect x="853.5" y="219.5" width="38.6" height="43" rx="5" fill="#000"/>
<rect x="972.6" y="224.5" width="38.6" height="43" rx="5" fill="#000"/>
<rect x="1330.0" y="227.5" width="38.6" height="43" rx="5" fill="#000"/>
<rect x="1687.5" y="227.5" width="38.6" height="43" rx="5" fill="#000"/>
<rect x="2402.4" y="229.0" width="38.6" height="43" rx="5" fill="#000"/>
<path d="M277.0,36.8 L297.0,82.2 L257.0,82.2 Z" fill="#0070C0" stroke="#0070C0" stroke-width="3" stroke-linejoin="round"/><path d="M277.0,52.0 L287.8,75.1 L266.2,75.1 Z" fill="#fff"/>
<path d="M300.8,73.2 L320.8,118.6 L280.8,118.6 Z" fill="#0070C0" stroke="#0070C0" stroke-width="3" stroke-linejoin="round"/><path d="M300.8,88.4 L311.6,111.5 L290.0,111.5 Z" fill="#fff"/>
<path d="M336.6,96.6 L356.6,142.0 L316.6,142.0 Z" fill="#0070C0" stroke="#0070C0" stroke-width="3" stroke-linejoin="round"/><path d="M336.6,111.8 L347.4,134.9 L325.8,134.9 Z" fill="#fff"/>
<path d="M396.1,160.7 L416.1,206.1 L376.1,206.1 Z" fill="#0070C0" stroke="#0070C0" stroke-width="3" stroke-linejoin="round"/><path d="M396.1,175.9 L406.9,199.0 L385.3,199.0 Z" fill="#fff"/>
<path d="M455.7,218.5 L475.7,263.9 L435.7,263.9 Z" fill="#0070C0" stroke="#0070C0" stroke-width="3" stroke-linejoin="round"/><path d="M455.7,233.7 L466.5,256.8 L444.9,256.8 Z" fill="#fff"/>
<path d="M515.3,269.1 L535.3,314.5 L495.3,314.5 Z" fill="#0070C0" stroke="#0070C0" stroke-width="3" stroke-linejoin="round"/><path d="M515.3,284.3 L526.1,307.4 L504.5,307.4 Z" fill="#fff"/>
<path d="M574.9,324.0 L594.9,369.4 L554.9,369.4 Z" fill="#0070C0" stroke="#0070C0" stroke-width="3" stroke-linejoin="round"/><path d="M574.9,339.2 L585.7,362.3 L564.1,362.3 Z" fill="#fff"/>
<path d="M634.5,398.1 L654.5,443.5 L614.5,443.5 Z" fill="#0070C0" stroke="#0070C0" stroke-width="3" stroke-linejoin="round"/><path d="M634.5,413.3 L645.2,436.4 L623.7,436.4 Z" fill="#fff"/>
<path d="M694.0,458.3 L714.0,503.7 L674.0,503.7 Z" fill="#0070C0" stroke="#0070C0" stroke-width="3" stroke-linejoin="round"/><path d="M694.0,473.5 L704.8,496.6 L683.2,496.6 Z" fill="#fff"/>
<path d="M753.6,514.2 L773.6,559.6 L733.6,559.6 Z" fill="#0070C0" stroke="#0070C0" stroke-width="3" stroke-linejoin="round"/><path d="M753.6,529.4 L764.4,552.5 L742.8,552.5 Z" fill="#fff"/>
<path d="M872.8,544.7 L892.8,590.1 L852.8,590.1 Z" fill="#0070C0" stroke="#0070C0" stroke-width="3" stroke-linejoin="round"/><path d="M872.8,559.9 L883.5,583.0 L862.0,583.0 Z" fill="#fff"/>
<path d="M991.9,572.9 L1011.9,618.3 L971.9,618.3 Z" fill="#0070C0" stroke="#0070C0" stroke-width="3" stroke-linejoin="round"/><path d="M991.9,588.1 L1002.7,611.2 L981.1,611.2 Z" fill="#fff"/>
<path d="M1349.3,582.9 L1369.3,628.3 L1329.3,628.3 Z" fill="#0070C0" stroke="#0070C0" stroke-width="3" stroke-linejoin="round"/><path d="M1349.3,598.1 L1360.1,621.2 L1338.5,621.2 Z" fill="#fff"/>
<path d="M1706.8,587.3 L1726.8,632.7 L1686.8,632.7 Z" fill="#0070C0" stroke="#0070C0" stroke-width="3" stroke-linejoin="round"/><path d="M1706.8,602.5 L1717.6,625.6 L1696.0,625.6 Z" fill="#fff"/>
<path d="M2421.7,583.3 L2441.7,628.7 L2401.7,628.7 Z" fill="#0070C0" stroke="#0070C0" stroke-width="3" stroke-linejoin="round"/><path d="M2421.7,598.5 L2432.5,621.6 L2410.9,621.6 Z" fill="#fff"/>
<path d="M277.0,36.3 L297.2,82.7 L256.8,82.7 Z" fill="#0070C0" stroke="#0070C0" stroke-width="3" stroke-linejoin="round"/><g fill="#d8e8f6" opacity="0.9"><rect x="275.8" y="52.3" width="2.4" height="2.4"/><rect x="275.8" y="55.8" width="2.4" height="2.4"/><rect x="275.8" y="59.3" width="2.4" height="2.4"/><rect x="271.8" y="63.8" width="2.4" height="2.4"/><rect x="279.8" y="63.8" width="2.4" height="2.4"/><rect x="275.8" y="64.3" width="2.4" height="2.4"/><rect x="269.3" y="68.3" width="2.4" height="2.4"/><rect x="282.3" y="68.3" width="2.4" height="2.4"/><rect x="266.8" y="72.3" width="2.4" height="2.4"/><rect x="275.8" y="72.3" width="2.4" height="2.4"/><rect x="284.8" y="72.3" width="2.4" height="2.4"/></g>
<path d="M300.8,48.0 L321.0,94.4 L280.6,94.4 Z" fill="#0070C0" stroke="#0070C0" stroke-width="3" stroke-linejoin="round"/><g fill="#d8e8f6" opacity="0.9"><rect x="299.6" y="64.0" width="2.4" height="2.4"/><rect x="299.6" y="67.5" width="2.4" height="2.4"/><rect x="299.6" y="71.0" width="2.4" height="2.4"/><rect x="295.6" y="75.5" width="2.4" height="2.4"/><rect x="303.6" y="75.5" width="2.4" height="2.4"/><rect x="299.6" y="76.0" width="2.4" height="2.4"/><rect x="293.1" y="80.0" width="2.4" height="2.4"/><rect x="306.1" y="80.0" width="2.4" height="2.4"/><rect x="290.6" y="84.0" width="2.4" height="2.4"/><rect x="299.6" y="84.0" width="2.4" height="2.4"/><rect x="308.6" y="84.0" width="2.4" height="2.4"/></g>
<path d="M336.6,96.1 L356.8,142.5 L316.4,142.5 Z" fill="#0070C0" stroke="#0070C0" stroke-width="3" stroke-linejoin="round"/><g fill="#d8e8f6" opacity="0.9"><rect x="335.4" y="112.1" width="2.4" height="2.4"/><rect x="335.4" y="115.6" width="2.4" height="2.4"/><rect x="335.4" y="119.1" width="2.4" height="2.4"/><rect x="331.4" y="123.6" width="2.4" height="2.4"/><rect x="339.4" y="123.6" width="2.4" height="2.4"/><rect x="335.4" y="124.1" width="2.4" height="2.4"/><rect x="328.9" y="128.1" width="2.4" height="2.4"/><rect x="341.9" y="128.1" width="2.4" height="2.4"/><rect x="326.4" y="132.1" width="2.4" height="2.4"/><rect x="335.4" y="132.1" width="2.4" height="2.4"/><rect x="344.4" y="132.1" width="2.4" height="2.4"/></g>
<path d="M396.1,148.5 L416.3,194.9 L375.9,194.9 Z" fill="#0070C0" stroke="#0070C0" stroke-width="3" stroke-linejoin="round"/><g fill="#d8e8f6" opacity="0.9"><rect x="394.9" y="164.5" width="2.4" height="2.4"/><rect x="394.9" y="168.0" width="2.4" height="2.4"/><rect x="394.9" y="171.5" width="2.4" height="2.4"/><rect x="390.9" y="176.0" width="2.4" height="2.4"/><rect x="398.9" y="176.0" width="2.4" height="2.4"/><rect x="394.9" y="176.5" width="2.4" height="2.4"/><rect x="388.4" y="180.5" width="2.4" height="2.4"/><rect x="401.4" y="180.5" width="2.4" height="2.4"/><rect x="385.9" y="184.5" width="2.4" height="2.4"/><rect x="394.9" y="184.5" width="2.4" height="2.4"/><rect x="403.9" y="184.5" width="2.4" height="2.4"/></g>
<path d="M455.7,213.4 L475.9,259.8 L435.5,259.8 Z" fill="#0070C0" stroke="#0070C0" stroke-width="3" stroke-linejoin="round"/><g fill="#d8e8f6" opacity="0.9"><rect x="454.5" y="229.4" width="2.4" height="2.4"/><rect x="454.5" y="232.9" width="2.4" height="2.4"/><rect x="454.5" y="236.4" width="2.4" height="2.4"/><rect x="450.5" y="240.9" width="2.4" height="2.4"/><rect x="458.5" y="240.9" width="2.4" height="2.4"/><rect x="454.5" y="241.4" width="2.4" height="2.4"/><rect x="448.0" y="245.4" width="2.4" height="2.4"/><rect x="461.0" y="245.4" width="2.4" height="2.4"/><rect x="445.5" y="249.4" width="2.4" height="2.4"/><rect x="454.5" y="249.4" width="2.4" height="2.4"/><rect x="463.5" y="249.4" width="2.4" height="2.4"/></g>
<path d="M515.3,257.7 L535.5,304.1 L495.1,304.1 Z" fill="#0070C0" stroke="#0070C0" stroke-width="3" stroke-linejoin="round"/><g fill="#d8e8f6" opacity="0.9"><rect x="514.1" y="273.7" width="2.4" height="2.4"/><rect x="514.1" y="277.2" width="2.4" height="2.4"/><rect x="514.1" y="280.7" width="2.4" height="2.4"/><rect x="510.1" y="285.2" width="2.4" height="2.4"/><rect x="518.1" y="285.2" width="2.4" height="2.4"/><rect x="514.1" y="285.7" width="2.4" height="2.4"/><rect x="507.6" y="289.7" width="2.4" height="2.4"/><rect x="520.6" y="289.7" width="2.4" height="2.4"/><rect x="505.1" y="293.7" width="2.4" height="2.4"/><rect x="514.1" y="293.7" width="2.4" height="2.4"/><rect x="523.1" y="293.7" width="2.4" height="2.4"/></g>
<path d="M574.9,318.5 L595.1,364.9 L554.7,364.9 Z" fill="#0070C0" stroke="#0070C0" stroke-width="3" stroke-linejoin="round"/><g fill="#d8e8f6" opacity="0.9"><rect x="573.7" y="334.5" width="2.4" height="2.4"/><rect x="573.7" y="338.0" width="2.4" height="2.4"/><rect x="573.7" y="341.5" width="2.4" height="2.4"/><rect x="569.7" y="346.0" width="2.4" height="2.4"/><rect x="577.7" y="346.0" width="2.4" height="2.4"/><rect x="573.7" y="346.5" width="2.4" height="2.4"/><rect x="567.2" y="350.5" width="2.4" height="2.4"/><rect x="580.2" y="350.5" width="2.4" height="2.4"/><rect x="564.7" y="354.5" width="2.4" height="2.4"/><rect x="573.7" y="354.5" width="2.4" height="2.4"/><rect x="582.7" y="354.5" width="2.4" height="2.4"/></g>
<path d="M634.5,383.5 L654.7,429.9 L614.2,429.9 Z" fill="#0070C0" stroke="#0070C0" stroke-width="3" stroke-linejoin="round"/><g fill="#d8e8f6" opacity="0.9"><rect x="633.2" y="399.5" width="2.4" height="2.4"/><rect x="633.2" y="403.0" width="2.4" height="2.4"/><rect x="633.2" y="406.5" width="2.4" height="2.4"/><rect x="629.2" y="411.0" width="2.4" height="2.4"/><rect x="637.2" y="411.0" width="2.4" height="2.4"/><rect x="633.2" y="411.5" width="2.4" height="2.4"/><rect x="626.8" y="415.5" width="2.4" height="2.4"/><rect x="639.8" y="415.5" width="2.4" height="2.4"/><rect x="624.2" y="419.5" width="2.4" height="2.4"/><rect x="633.2" y="419.5" width="2.4" height="2.4"/><rect x="642.2" y="419.5" width="2.4" height="2.4"/></g>
<path d="M694.0,476.8 L714.2,523.2 L673.8,523.2 Z" fill="#0070C0" stroke="#0070C0" stroke-width="3" stroke-linejoin="round"/><g fill="#d8e8f6" opacity="0.9"><rect x="692.8" y="492.8" width="2.4" height="2.4"/><rect x="692.8" y="496.3" width="2.4" height="2.4"/><rect x="692.8" y="499.8" width="2.4" height="2.4"/><rect x="688.8" y="504.3" width="2.4" height="2.4"/><rect x="696.8" y="504.3" width="2.4" height="2.4"/><rect x="692.8" y="504.8" width="2.4" height="2.4"/><rect x="686.3" y="508.8" width="2.4" height="2.4"/><rect x="699.3" y="508.8" width="2.4" height="2.4"/><rect x="683.8" y="512.8" width="2.4" height="2.4"/><rect x="692.8" y="512.8" width="2.4" height="2.4"/><rect x="701.8" y="512.8" width="2.4" height="2.4"/></g>
<path d="M753.6,525.8 L773.8,572.2 L733.4,572.2 Z" fill="#0070C0" stroke="#0070C0" stroke-width="3" stroke-linejoin="round"/><g fill="#d8e8f6" opacity="0.9"><rect x="752.4" y="541.8" width="2.4" height="2.4"/><rect x="752.4" y="545.3" width="2.4" height="2.4"/><rect x="752.4" y="548.8" width="2.4" height="2.4"/><rect x="748.4" y="553.3" width="2.4" height="2.4"/><rect x="756.4" y="553.3" width="2.4" height="2.4"/><rect x="752.4" y="553.8" width="2.4" height="2.4"/><rect x="745.9" y="557.8" width="2.4" height="2.4"/><rect x="758.9" y="557.8" width="2.4" height="2.4"/><rect x="743.4" y="561.8" width="2.4" height="2.4"/><rect x="752.4" y="561.8" width="2.4" height="2.4"/><rect x="761.4" y="561.8" width="2.4" height="2.4"/></g>
<path d="M872.8,550.8 L893.0,597.2 L852.5,597.2 Z" fill="#0070C0" stroke="#0070C0" stroke-width="3" stroke-linejoin="round"/><g fill="#d8e8f6" opacity="0.9"><rect x="871.5" y="566.8" width="2.4" height="2.4"/><rect x="871.5" y="570.3" width="2.4" height="2.4"/><rect x="871.5" y="573.8" width="2.4" height="2.4"/><rect x="867.5" y="578.3" width="2.4" height="2.4"/><rect x="875.5" y="578.3" width="2.4" height="2.4"/><rect x="871.5" y="578.8" width="2.4" height="2.4"/><rect x="865.0" y="582.8" width="2.4" height="2.4"/><rect x="878.0" y="582.8" width="2.4" height="2.4"/><rect x="862.5" y="586.8" width="2.4" height="2.4"/><rect x="871.5" y="586.8" width="2.4" height="2.4"/><rect x="880.5" y="586.8" width="2.4" height="2.4"/></g>
<path d="M991.9,563.0 L1012.1,609.4 L971.7,609.4 Z" fill="#0070C0" stroke="#0070C0" stroke-width="3" stroke-linejoin="round"/><g fill="#d8e8f6" opacity="0.9"><rect x="990.7" y="579.0" width="2.4" height="2.4"/><rect x="990.7" y="582.5" width="2.4" height="2.4"/><rect x="990.7" y="586.0" width="2.4" height="2.4"/><rect x="986.7" y="590.5" width="2.4" height="2.4"/><rect x="994.7" y="590.5" width="2.4" height="2.4"/><rect x="990.7" y="591.0" width="2.4" height="2.4"/><rect x="984.2" y="595.0" width="2.4" height="2.4"/><rect x="997.2" y="595.0" width="2.4" height="2.4"/><rect x="981.7" y="599.0" width="2.4" height="2.4"/><rect x="990.7" y="599.0" width="2.4" height="2.4"/><rect x="999.7" y="599.0" width="2.4" height="2.4"/></g>
<path d="M1349.3,571.8 L1369.5,618.2 L1329.1,618.2 Z" fill="#0070C0" stroke="#0070C0" stroke-width="3" stroke-linejoin="round"/><g fill="#d8e8f6" opacity="0.9"><rect x="1348.1" y="587.8" width="2.4" height="2.4"/><rect x="1348.1" y="591.3" width="2.4" height="2.4"/><rect x="1348.1" y="594.8" width="2.4" height="2.4"/><rect x="1344.1" y="599.3" width="2.4" height="2.4"/><rect x="1352.1" y="599.3" width="2.4" height="2.4"/><rect x="1348.1" y="599.8" width="2.4" height="2.4"/><rect x="1341.6" y="603.8" width="2.4" height="2.4"/><rect x="1354.6" y="603.8" width="2.4" height="2.4"/><rect x="1339.1" y="607.8" width="2.4" height="2.4"/><rect x="1348.1" y="607.8" width="2.4" height="2.4"/><rect x="1357.1" y="607.8" width="2.4" height="2.4"/></g>
<path d="M1706.8,571.8 L1727.0,618.2 L1686.6,618.2 Z" fill="#0070C0" stroke="#0070C0" stroke-width="3" stroke-linejoin="round"/><g fill="#d8e8f6" opacity="0.9"><rect x="1705.6" y="587.8" width="2.4" height="2.4"/><rect x="1705.6" y="591.3" width="2.4" height="2.4"/><rect x="1705.6" y="594.8" width="2.4" height="2.4"/><rect x="1701.6" y="599.3" width="2.4" height="2.4"/><rect x="1709.6" y="599.3" width="2.4" height="2.4"/><rect x="1705.6" y="599.8" width="2.4" height="2.4"/><rect x="1699.1" y="603.8" width="2.4" height="2.4"/><rect x="1712.1" y="603.8" width="2.4" height="2.4"/><rect x="1696.6" y="607.8" width="2.4" height="2.4"/><rect x="1705.6" y="607.8" width="2.4" height="2.4"/><rect x="1714.6" y="607.8" width="2.4" height="2.4"/></g>
<path d="M2421.7,572.1 L2441.9,618.5 L2401.5,618.5 Z" fill="#0070C0" stroke="#0070C0" stroke-width="3" stroke-linejoin="round"/><g fill="#d8e8f6" opacity="0.9"><rect x="2420.5" y="588.1" width="2.4" height="2.4"/><rect x="2420.5" y="591.6" width="2.4" height="2.4"/><rect x="2420.5" y="595.1" width="2.4" height="2.4"/><rect x="2416.5" y="599.6" width="2.4" height="2.4"/><rect x="2424.5" y="599.6" width="2.4" height="2.4"/><rect x="2420.5" y="600.1" width="2.4" height="2.4"/><rect x="2414.0" y="604.1" width="2.4" height="2.4"/><rect x="2427.0" y="604.1" width="2.4" height="2.4"/><rect x="2411.5" y="608.1" width="2.4" height="2.4"/><rect x="2420.5" y="608.1" width="2.4" height="2.4"/><rect x="2429.5" y="608.1" width="2.4" height="2.4"/></g>
<path d="M277.0,36.6 L297.2,82.4 L256.8,82.4 Z" fill="#0070C0" stroke="#0070C0" stroke-width="3" stroke-linejoin="round"/>
<path d="M300.8,73.0 L321.0,118.8 L280.6,118.8 Z" fill="#0070C0" stroke="#0070C0" stroke-width="3" stroke-linejoin="round"/>
<path d="M336.6,96.4 L356.8,142.2 L316.4,142.2 Z" fill="#0070C0" stroke="#0070C0" stroke-width="3" stroke-linejoin="round"/>
<path d="M396.1,160.5 L416.3,206.3 L375.9,206.3 Z" fill="#0070C0" stroke="#0070C0" stroke-width="3" stroke-linejoin="round"/>
<path d="M455.7,218.3 L475.9,264.1 L435.5,264.1 Z" fill="#0070C0" stroke="#0070C0" stroke-width="3" stroke-linejoin="round"/>
<path d="M515.3,268.9 L535.5,314.7 L495.1,314.7 Z" fill="#0070C0" stroke="#0070C0" stroke-width="3" stroke-linejoin="round"/>
<path d="M574.9,323.8 L595.1,369.6 L554.7,369.6 Z" fill="#0070C0" stroke="#0070C0" stroke-width="3" stroke-linejoin="round"/>
<path d="M634.5,397.9 L654.7,443.7 L614.2,443.7 Z" fill="#0070C0" stroke="#0070C0" stroke-width="3" stroke-linejoin="round"/>
<path d="M694.0,434.1 L714.2,479.9 L673.8,479.9 Z" fill="#0070C0" stroke="#0070C0" stroke-width="3" stroke-linejoin="round"/>
<path d="M753.6,501.8 L773.8,547.6 L733.4,547.6 Z" fill="#0070C0" stroke="#0070C0" stroke-width="3" stroke-linejoin="round"/>
<path d="M872.8,538.1 L893.0,583.9 L852.5,583.9 Z" fill="#0070C0" stroke="#0070C0" stroke-width="3" stroke-linejoin="round"/>
<path d="M991.9,582.7 L1012.1,628.5 L971.7,628.5 Z" fill="#0070C0" stroke="#0070C0" stroke-width="3" stroke-linejoin="round"/>
<path d="M1349.3,582.7 L1369.5,628.5 L1329.1,628.5 Z" fill="#0070C0" stroke="#0070C0" stroke-width="3" stroke-linejoin="round"/>
<path d="M1706.8,587.1 L1727.0,632.9 L1686.6,632.9 Z" fill="#0070C0" stroke="#0070C0" stroke-width="3" stroke-linejoin="round"/>
<path d="M2421.7,583.1 L2441.9,628.9 L2401.5,628.9 Z" fill="#0070C0" stroke="#0070C0" stroke-width="3" stroke-linejoin="round"/>
<ellipse cx="277.0" cy="59.5" rx="14.8" ry="16.4" fill="none" stroke="#FF0000" stroke-width="8"/>
<ellipse cx="300.8" cy="86.5" rx="14.8" ry="16.4" fill="none" stroke="#FF0000" stroke-width="8"/>
<ellipse cx="336.6" cy="165.4" rx="14.8" ry="16.4" fill="none" stroke="#FF0000" stroke-width="8"/>
<ellipse cx="396.1" cy="243.4" rx="14.8" ry="16.4" fill="none" stroke="#FF0000" stroke-width="8"/>
<ellipse cx="455.7" cy="327.7" rx="14.8" ry="16.4" fill="none" stroke="#FF0000" stroke-width="8"/>
<ellipse cx="515.3" cy="415.4" rx="14.8" ry="16.4" fill="none" stroke="#FF0000" stroke-width="8"/>
<ellipse cx="574.9" cy="554.5" rx="14.8" ry="16.4" fill="none" stroke="#FF0000" stroke-width="8"/>
<ellipse cx="634.5" cy="608.0" rx="14.8" ry="16.4" fill="none" stroke="#FF0000" stroke-width="8"/>
<ellipse cx="694.0" cy="709.2" rx="14.8" ry="16.4" fill="none" stroke="#FF0000" stroke-width="8"/>
<ellipse cx="753.6" cy="831.8" rx="14.8" ry="16.4" fill="none" stroke="#FF0000" stroke-width="8"/>
<ellipse cx="872.8" cy="837.0" rx="14.8" ry="16.4" fill="none" stroke="#FF0000" stroke-width="8"/>
<ellipse cx="991.9" cy="839.1" rx="14.8" ry="16.4" fill="none" stroke="#FF0000" stroke-width="8"/>
<ellipse cx="1349.3" cy="837.0" rx="14.8" ry="16.4" fill="none" stroke="#FF0000" stroke-width="8"/>
<ellipse cx="1706.8" cy="837.0" rx="14.8" ry="16.4" fill="none" stroke="#FF0000" stroke-width="8"/>
<ellipse cx="2421.7" cy="840.5" rx="14.8" ry="16.4" fill="none" stroke="#FF0000" stroke-width="8"/>
<ellipse cx="277.0" cy="59.5" rx="19" ry="21" fill="#FF0000"/><g fill="#ffd6d6" opacity="0.9"><rect x="272.5" y="49.0" width="3" height="3"/><rect x="278.5" y="49.0" width="3" height="3"/><rect x="266.5" y="53.5" width="3" height="3"/><rect x="272.5" y="53.5" width="3" height="3"/><rect x="278.5" y="53.5" width="3" height="3"/><rect x="284.5" y="53.5" width="3" height="3"/><rect x="269.5" y="58.0" width="3" height="3"/><rect x="275.5" y="58.0" width="3" height="3"/><rect x="281.5" y="58.0" width="3" height="3"/><rect x="266.5" y="62.5" width="3" height="3"/><rect x="272.5" y="62.5" width="3" height="3"/><rect x="278.5" y="62.5" width="3" height="3"/><rect x="284.5" y="62.5" width="3" height="3"/><rect x="272.5" y="67.0" width="3" height="3"/><rect x="278.5" y="67.0" width="3" height="3"/></g>
<ellipse cx="300.8" cy="93.5" rx="19" ry="21" fill="#FF0000"/><g fill="#ffd6d6" opacity="0.9"><rect x="296.3" y="83.0" width="3" height="3"/><rect x="302.3" y="83.0" width="3" height="3"/><rect x="290.3" y="87.5" width="3" height="3"/><rect x="296.3" y="87.5" width="3" height="3"/><rect x="302.3" y="87.5" width="3" height="3"/><rect x="308.3" y="87.5" width="3" height="3"/><rect x="293.3" y="92.0" width="3" height="3"/><rect x="299.3" y="92.0" width="3" height="3"/><rect x="305.3" y="92.0" width="3" height="3"/><rect x="290.3" y="96.5" width="3" height="3"/><rect x="296.3" y="96.5" width="3" height="3"/><rect x="302.3" y="96.5" width="3" height="3"/><rect x="308.3" y="96.5" width="3" height="3"/><rect x="296.3" y="101.0" width="3" height="3"/><rect x="302.3" y="101.0" width="3" height="3"/></g>
<ellipse cx="336.6" cy="175.6" rx="19" ry="21" fill="#FF0000"/><g fill="#ffd6d6" opacity="0.9"><rect x="332.1" y="165.1" width="3" height="3"/><rect x="338.1" y="165.1" width="3" height="3"/><rect x="326.1" y="169.6" width="3" height="3"/><rect x="332.1" y="169.6" width="3" height="3"/><rect x="338.1" y="169.6" width="3" height="3"/><rect x="344.1" y="169.6" width="3" height="3"/><rect x="329.1" y="174.1" width="3" height="3"/><rect x="335.1" y="174.1" width="3" height="3"/><rect x="341.1" y="174.1" width="3" height="3"/><rect x="326.1" y="178.6" width="3" height="3"/><rect x="332.1" y="178.6" width="3" height="3"/><rect x="338.1" y="178.6" width="3" height="3"/><rect x="344.1" y="178.6" width="3" height="3"/><rect x="332.1" y="183.1" width="3" height="3"/><rect x="338.1" y="183.1" width="3" height="3"/></g>
<ellipse cx="396.1" cy="249.5" rx="19" ry="21" fill="#FF0000"/><g fill="#ffd6d6" opacity="0.9"><rect x="391.6" y="239.0" width="3" height="3"/><rect x="397.6" y="239.0" width="3" height="3"/><rect x="385.6" y="243.5" width="3" height="3"/><rect x="391.6" y="243.5" width="3" height="3"/><rect x="397.6" y="243.5" width="3" height="3"/><rect x="403.6" y="243.5" width="3" height="3"/><rect x="388.6" y="248.0" width="3" height="3"/><rect x="394.6" y="248.0" width="3" height="3"/><rect x="400.6" y="248.0" width="3" height="3"/><rect x="385.6" y="252.5" width="3" height="3"/><rect x="391.6" y="252.5" width="3" height="3"/><rect x="397.6" y="252.5" width="3" height="3"/><rect x="403.6" y="252.5" width="3" height="3"/><rect x="391.6" y="257.0" width="3" height="3"/><rect x="397.6" y="257.0" width="3" height="3"/></g>
<ellipse cx="455.7" cy="334.0" rx="19" ry="21" fill="#FF0000"/><g fill="#ffd6d6" opacity="0.9"><rect x="451.2" y="323.5" width="3" height="3"/><rect x="457.2" y="323.5" width="3" height="3"/><rect x="445.2" y="328.0" width="3" height="3"/><rect x="451.2" y="328.0" width="3" height="3"/><rect x="457.2" y="328.0" width="3" height="3"/><rect x="463.2" y="328.0" width="3" height="3"/><rect x="448.2" y="332.5" width="3" height="3"/><rect x="454.2" y="332.5" width="3" height="3"/><rect x="460.2" y="332.5" width="3" height="3"/><rect x="445.2" y="337.0" width="3" height="3"/><rect x="451.2" y="337.0" width="3" height="3"/><rect x="457.2" y="337.0" width="3" height="3"/><rect x="463.2" y="337.0" width="3" height="3"/><rect x="451.2" y="341.5" width="3" height="3"/><rect x="457.2" y="341.5" width="3" height="3"/></g>
<ellipse cx="515.3" cy="426.7" rx="19" ry="21" fill="#FF0000"/><g fill="#ffd6d6" opacity="0.9"><rect x="510.8" y="416.2" width="3" height="3"/><rect x="516.8" y="416.2" width="3" height="3"/><rect x="504.8" y="420.7" width="3" height="3"/><rect x="510.8" y="420.7" width="3" height="3"/><rect x="516.8" y="420.7" width="3" height="3"/><rect x="522.8" y="420.7" width="3" height="3"/><rect x="507.8" y="425.2" width="3" height="3"/><rect x="513.8" y="425.2" width="3" height="3"/><rect x="519.8" y="425.2" width="3" height="3"/><rect x="504.8" y="429.7" width="3" height="3"/><rect x="510.8" y="429.7" width="3" height="3"/><rect x="516.8" y="429.7" width="3" height="3"/><rect x="522.8" y="429.7" width="3" height="3"/><rect x="510.8" y="434.2" width="3" height="3"/><rect x="516.8" y="434.2" width="3" height="3"/></g>
<ellipse cx="574.9" cy="560.4" rx="19" ry="21" fill="#FF0000"/><g fill="#ffd6d6" opacity="0.9"><rect x="570.4" y="549.9" width="3" height="3"/><rect x="576.4" y="549.9" width="3" height="3"/><rect x="564.4" y="554.4" width="3" height="3"/><rect x="570.4" y="554.4" width="3" height="3"/><rect x="576.4" y="554.4" width="3" height="3"/><rect x="582.4" y="554.4" width="3" height="3"/><rect x="567.4" y="558.9" width="3" height="3"/><rect x="573.4" y="558.9" width="3" height="3"/><rect x="579.4" y="558.9" width="3" height="3"/><rect x="564.4" y="563.4" width="3" height="3"/><rect x="570.4" y="563.4" width="3" height="3"/><rect x="576.4" y="563.4" width="3" height="3"/><rect x="582.4" y="563.4" width="3" height="3"/><rect x="570.4" y="567.9" width="3" height="3"/><rect x="576.4" y="567.9" width="3" height="3"/></g>
<ellipse cx="634.5" cy="623.5" rx="19" ry="21" fill="#FF0000"/><g fill="#ffd6d6" opacity="0.9"><rect x="630.0" y="613.0" width="3" height="3"/><rect x="636.0" y="613.0" width="3" height="3"/><rect x="624.0" y="617.5" width="3" height="3"/><rect x="630.0" y="617.5" width="3" height="3"/><rect x="636.0" y="617.5" width="3" height="3"/><rect x="642.0" y="617.5" width="3" height="3"/><rect x="627.0" y="622.0" width="3" height="3"/><rect x="633.0" y="622.0" width="3" height="3"/><rect x="639.0" y="622.0" width="3" height="3"/><rect x="624.0" y="626.5" width="3" height="3"/><rect x="630.0" y="626.5" width="3" height="3"/><rect x="636.0" y="626.5" width="3" height="3"/><rect x="642.0" y="626.5" width="3" height="3"/><rect x="630.0" y="631.0" width="3" height="3"/><rect x="636.0" y="631.0" width="3" height="3"/></g>
<ellipse cx="694.0" cy="741.5" rx="19" ry="21" fill="#FF0000"/><g fill="#ffd6d6" opacity="0.9"><rect x="689.5" y="731.0" width="3" height="3"/><rect x="695.5" y="731.0" width="3" height="3"/><rect x="683.5" y="735.5" width="3" height="3"/><rect x="689.5" y="735.5" width="3" height="3"/><rect x="695.5" y="735.5" width="3" height="3"/><rect x="701.5" y="735.5" width="3" height="3"/><rect x="686.5" y="740.0" width="3" height="3"/><rect x="692.5" y="740.0" width="3" height="3"/><rect x="698.5" y="740.0" width="3" height="3"/><rect x="683.5" y="744.5" width="3" height="3"/><rect x="689.5" y="744.5" width="3" height="3"/><rect x="695.5" y="744.5" width="3" height="3"/><rect x="701.5" y="744.5" width="3" height="3"/><rect x="689.5" y="749.0" width="3" height="3"/><rect x="695.5" y="749.0" width="3" height="3"/></g>
<ellipse cx="753.6" cy="838.4" rx="19" ry="21" fill="#FF0000"/><g fill="#ffd6d6" opacity="0.9"><rect x="749.1" y="827.9" width="3" height="3"/><rect x="755.1" y="827.9" width="3" height="3"/><rect x="743.1" y="832.4" width="3" height="3"/><rect x="749.1" y="832.4" width="3" height="3"/><rect x="755.1" y="832.4" width="3" height="3"/><rect x="761.1" y="832.4" width="3" height="3"/><rect x="746.1" y="836.9" width="3" height="3"/><rect x="752.1" y="836.9" width="3" height="3"/><rect x="758.1" y="836.9" width="3" height="3"/><rect x="743.1" y="841.4" width="3" height="3"/><rect x="749.1" y="841.4" width="3" height="3"/><rect x="755.1" y="841.4" width="3" height="3"/><rect x="761.1" y="841.4" width="3" height="3"/><rect x="749.1" y="845.9" width="3" height="3"/><rect x="755.1" y="845.9" width="3" height="3"/></g>
<ellipse cx="872.8" cy="847.8" rx="19" ry="21" fill="#FF0000"/><g fill="#ffd6d6" opacity="0.9"><rect x="868.2" y="837.3" width="3" height="3"/><rect x="874.2" y="837.3" width="3" height="3"/><rect x="862.2" y="841.8" width="3" height="3"/><rect x="868.2" y="841.8" width="3" height="3"/><rect x="874.2" y="841.8" width="3" height="3"/><rect x="880.2" y="841.8" width="3" height="3"/><rect x="865.2" y="846.3" width="3" height="3"/><rect x="871.2" y="846.3" width="3" height="3"/><rect x="877.2" y="846.3" width="3" height="3"/><rect x="862.2" y="850.8" width="3" height="3"/><rect x="868.2" y="850.8" width="3" height="3"/><rect x="874.2" y="850.8" width="3" height="3"/><rect x="880.2" y="850.8" width="3" height="3"/><rect x="868.2" y="855.3" width="3" height="3"/><rect x="874.2" y="855.3" width="3" height="3"/></g>
<ellipse cx="991.9" cy="851.3" rx="19" ry="21" fill="#FF0000"/><g fill="#ffd6d6" opacity="0.9"><rect x="987.4" y="840.8" width="3" height="3"/><rect x="993.4" y="840.8" width="3" height="3"/><rect x="981.4" y="845.3" width="3" height="3"/><rect x="987.4" y="845.3" width="3" height="3"/><rect x="993.4" y="845.3" width="3" height="3"/><rect x="999.4" y="845.3" width="3" height="3"/><rect x="984.4" y="849.8" width="3" height="3"/><rect x="990.4" y="849.8" width="3" height="3"/><rect x="996.4" y="849.8" width="3" height="3"/><rect x="981.4" y="854.3" width="3" height="3"/><rect x="987.4" y="854.3" width="3" height="3"/><rect x="993.4" y="854.3" width="3" height="3"/><rect x="999.4" y="854.3" width="3" height="3"/><rect x="987.4" y="858.8" width="3" height="3"/><rect x="993.4" y="858.8" width="3" height="3"/></g>
<ellipse cx="1349.3" cy="847.8" rx="19" ry="21" fill="#FF0000"/><g fill="#ffd6d6" opacity="0.9"><rect x="1344.8" y="837.3" width="3" height="3"/><rect x="1350.8" y="837.3" width="3" height="3"/><rect x="1338.8" y="841.8" width="3" height="3"/><rect x="1344.8" y="841.8" width="3" height="3"/><rect x="1350.8" y="841.8" width="3" height="3"/><rect x="1356.8" y="841.8" width="3" height="3"/><rect x="1341.8" y="846.3" width="3" height="3"/><rect x="1347.8" y="846.3" width="3" height="3"/><rect x="1353.8" y="846.3" width="3" height="3"/><rect x="1338.8" y="850.8" width="3" height="3"/><rect x="1344.8" y="850.8" width="3" height="3"/><rect x="1350.8" y="850.8" width="3" height="3"/><rect x="1356.8" y="850.8" width="3" height="3"/><rect x="1344.8" y="855.3" width="3" height="3"/><rect x="1350.8" y="855.3" width="3" height="3"/></g>
<ellipse cx="1706.8" cy="847.8" rx="19" ry="21" fill="#FF0000"/><g fill="#ffd6d6" opacity="0.9"><rect x="1702.3" y="837.3" width="3" height="3"/><rect x="1708.3" y="837.3" width="3" height="3"/><rect x="1696.3" y="841.8" width="3" height="3"/><rect x="1702.3" y="841.8" width="3" height="3"/><rect x="1708.3" y="841.8" width="3" height="3"/><rect x="1714.3" y="841.8" width="3" height="3"/><rect x="1699.3" y="846.3" width="3" height="3"/><rect x="1705.3" y="846.3" width="3" height="3"/><rect x="1711.3" y="846.3" width="3" height="3"/><rect x="1696.3" y="850.8" width="3" height="3"/><rect x="1702.3" y="850.8" width="3" height="3"/><rect x="1708.3" y="850.8" width="3" height="3"/><rect x="1714.3" y="850.8" width="3" height="3"/><rect x="1702.3" y="855.3" width="3" height="3"/><rect x="1708.3" y="855.3" width="3" height="3"/></g>
<ellipse cx="2421.7" cy="856.0" rx="19" ry="21" fill="#FF0000"/><g fill="#ffd6d6" opacity="0.9"><rect x="2417.2" y="845.5" width="3" height="3"/><rect x="2423.2" y="845.5" width="3" height="3"/><rect x="2411.2" y="850.0" width="3" height="3"/><rect x="2417.2" y="850.0" width="3" height="3"/><rect x="2423.2" y="850.0" width="3" height="3"/><rect x="2429.2" y="850.0" width="3" height="3"/><rect x="2414.2" y="854.5" width="3" height="3"/><rect x="2420.2" y="854.5" width="3" height="3"/><rect x="2426.2" y="854.5" width="3" height="3"/><rect x="2411.2" y="859.0" width="3" height="3"/><rect x="2417.2" y="859.0" width="3" height="3"/><rect x="2423.2" y="859.0" width="3" height="3"/><rect x="2429.2" y="859.0" width="3" height="3"/><rect x="2417.2" y="863.5" width="3" height="3"/><rect x="2423.2" y="863.5" width="3" height="3"/></g>
<ellipse cx="277.0" cy="59.5" rx="21.4" ry="24.4" fill="#FF0000"/>
<ellipse cx="300.8" cy="97.1" rx="21.4" ry="24.4" fill="#FF0000"/>
<ellipse cx="336.6" cy="184.4" rx="21.4" ry="24.4" fill="#FF0000"/>
<ellipse cx="396.1" cy="255.2" rx="21.4" ry="24.4" fill="#FF0000"/>
<ellipse cx="455.7" cy="340.3" rx="21.4" ry="24.4" fill="#FF0000"/>
<ellipse cx="515.3" cy="438.6" rx="21.4" ry="24.4" fill="#FF0000"/>
<ellipse cx="574.9" cy="567.1" rx="21.4" ry="24.4" fill="#FF0000"/>
<ellipse cx="634.5" cy="679.0" rx="21.4" ry="24.4" fill="#FF0000"/>
<ellipse cx="694.0" cy="785.0" rx="21.4" ry="24.4" fill="#FF0000"/>
<ellipse cx="753.6" cy="845.7" rx="21.4" ry="24.4" fill="#FF0000"/>
<ellipse cx="872.8" cy="860.1" rx="21.4" ry="24.4" fill="#FF0000"/>
<ellipse cx="991.9" cy="863.1" rx="21.4" ry="24.4" fill="#FF0000"/>
<ellipse cx="1349.3" cy="858.9" rx="21.4" ry="24.4" fill="#FF0000"/>
<ellipse cx="1706.8" cy="858.9" rx="21.4" ry="24.4" fill="#FF0000"/>
<ellipse cx="2421.7" cy="858.6" rx="21.4" ry="24.4" fill="#FF0000"/>
</g>
<text transform="translate(223.5,1249.6) scale(1,1.165)" text-anchor="end" font-family="Liberation Serif, Times New Roman, serif" font-weight="bold" font-size="64" fill="#000">0</text>
<text transform="translate(223.5,1015.0) scale(1,1.165)" text-anchor="end" font-family="Liberation Serif, Times New Roman, serif" font-weight="bold" font-size="64" fill="#000">0.2</text>
<text transform="translate(223.5,780.5) scale(1,1.165)" text-anchor="end" font-family="Liberation Serif, Times New Roman, serif" font-weight="bold" font-size="64" fill="#000">0.4</text>
<text transform="translate(223.5,548.6) scale(1,1.165)" text-anchor="end" font-family="Liberation Serif, Times New Roman, serif" font-weight="bold" font-size="64" fill="#000">0.6</text>
<text transform="translate(223.5,314.0) scale(1,1.165)" text-anchor="end" font-family="Liberation Serif, Times New Roman, serif" font-weight="bold" font-size="64" fill="#000">0.8</text>
<text transform="translate(223.5,79.5) scale(1,1.165)" text-anchor="end" font-family="Liberation Serif, Times New Roman, serif" font-weight="bold" font-size="64" fill="#000">1</text>
<text transform="translate(277.0,1334.0) scale(1.03,1.165)" text-anchor="middle" font-family="Liberation Serif, Times New Roman, serif" font-weight="bold" font-size="64" fill="#000">0</text>
<text transform="translate(634.5,1334.0) scale(1.03,1.165)" text-anchor="middle" font-family="Liberation Serif, Times New Roman, serif" font-weight="bold" font-size="64" fill="#000">30</text>
<text transform="translate(991.9,1334.0) scale(1.03,1.165)" text-anchor="middle" font-family="Liberation Serif, Times New Roman, serif" font-weight="bold" font-size="64" fill="#000">60</text>
<text transform="translate(1349.3,1334.0) scale(1.03,1.165)" text-anchor="middle" font-family="Liberation Serif, Times New Roman, serif" font-weight="bold" font-size="64" fill="#000">90</text>
<text transform="translate(1706.8,1334.0) scale(1.03,1.165)" text-anchor="middle" font-family="Liberation Serif, Times New Roman, serif" font-weight="bold" font-size="64" fill="#000">120</text>
<text transform="translate(2064.2,1334.0) scale(1.03,1.165)" text-anchor="middle" font-family="Liberation Serif, Times New Roman, serif" font-weight="bold" font-size="64" fill="#000">150</text>
<text transform="translate(2421.7,1334.0) scale(1.03,1.165)" text-anchor="middle" font-family="Liberation Serif, Times New Roman, serif" font-weight="bold" font-size="64" fill="#000">180</text>
<text transform="translate(1354.0,1416.0) scale(1,1.165)" text-anchor="middle" font-family="Liberation Serif, Times New Roman, serif" font-weight="bold" font-size="64" fill="#000">Time (min)</text>
<text transform="translate(73,731.5) scale(1,1.08) rotate(-90)" font-family="Liberation Serif, Times New Roman, serif" font-weight="bold" font-size="64" fill="#000">C(t)/C<tspan font-size="42" dy="12">0</tspan></text>
<rect x="313" y="984" width="1463.5" height="211" fill="#fff" stroke="#000" stroke-width="11" stroke-linejoin="round"/>
<rect x="370.0" y="1001.2" width="30.4" height="34.8" rx="1.5" fill="none" stroke="#000" stroke-width="7" stroke-linejoin="round"/>
<text transform="translate(415.4,1040.0) scale(1,1.165)" text-anchor="start" font-family="Liberation Serif, Times New Roman, serif" font-weight="bold" font-size="64" fill="#000">MC #1</text>
<rect x="850.7" y="994.6" width="43.2" height="48" rx="5" fill="#000"/><g transform="translate(858.9,1006.3)"><rect x="-1.2" y="-0.7" width="29.5" height="27.5" fill="url(#pk)" opacity="0.85"/></g>
<text transform="translate(904.7,1040.0) scale(1,1.165)" text-anchor="start" font-family="Liberation Serif, Times New Roman, serif" font-weight="bold" font-size="64" fill="#000">MC #2</text>
<rect x="1340.3" y="997.1" width="38.6" height="43" rx="5" fill="#000"/>
<text transform="translate(1391.8,1040.0) scale(1,1.165)" text-anchor="start" font-family="Liberation Serif, Times New Roman, serif" font-weight="bold" font-size="64" fill="#000">MC #3</text>
<path d="M385.2,1066.5 L405.2,1111.9 L365.2,1111.9 Z" fill="#0070C0" stroke="#0070C0" stroke-width="3" stroke-linejoin="round"/><path d="M385.2,1081.7 L396.0,1104.8 L374.4,1104.8 Z" fill="#fff"/>
<text transform="translate(415.4,1110.5) scale(1,1.165)" text-anchor="start" font-family="Liberation Serif, Times New Roman, serif" font-weight="bold" font-size="64" fill="#000">MC-UR #1</text>
<path d="M872.3,1066.0 L892.5,1112.4 L852.1,1112.4 Z" fill="#0070C0" stroke="#0070C0" stroke-width="3" stroke-linejoin="round"/><g fill="#d8e8f6" opacity="0.9"><rect x="871.1" y="1082.0" width="2.4" height="2.4"/><rect x="871.1" y="1085.5" width="2.4" height="2.4"/><rect x="871.1" y="1089.0" width="2.4" height="2.4"/><rect x="867.1" y="1093.5" width="2.4" height="2.4"/><rect x="875.1" y="1093.5" width="2.4" height="2.4"/><rect x="871.1" y="1094.0" width="2.4" height="2.4"/><rect x="864.6" y="1098.0" width="2.4" height="2.4"/><rect x="877.6" y="1098.0" width="2.4" height="2.4"/><rect x="862.1" y="1102.0" width="2.4" height="2.4"/><rect x="871.1" y="1102.0" width="2.4" height="2.4"/><rect x="880.1" y="1102.0" width="2.4" height="2.4"/></g>
<text transform="translate(904.7,1110.5) scale(1,1.165)" text-anchor="start" font-family="Liberation Serif, Times New Roman, serif" font-weight="bold" font-size="64" fill="#000">MC-UR #2</text>
<path d="M1359.6,1066.3 L1379.8,1112.1 L1339.4,1112.1 Z" fill="#0070C0" stroke="#0070C0" stroke-width="3" stroke-linejoin="round"/>
<text transform="translate(1391.8,1110.5) scale(1,1.165)" text-anchor="start" font-family="Liberation Serif, Times New Roman, serif" font-weight="bold" font-size="64" fill="#000">MC-UR #3</text>
<ellipse cx="385.2" cy="1161.6" rx="14.8" ry="16.4" fill="none" stroke="#FF0000" stroke-width="8"/>
<text transform="translate(415.4,1180.8) scale(1,1.165)" text-anchor="start" font-family="Liberation Serif, Times New Roman, serif" font-weight="bold" font-size="64" fill="#000">MC-RU/S #1</text>
<ellipse cx="872.3" cy="1161.6" rx="19" ry="21" fill="#FF0000"/><g fill="#ffd6d6" opacity="0.9"><rect x="867.8" y="1151.1" width="3" height="3"/><rect x="873.8" y="1151.1" width="3" height="3"/><rect x="861.8" y="1155.6" width="3" height="3"/><rect x="867.8" y="1155.6" width="3" height="3"/><rect x="873.8" y="1155.6" width="3" height="3"/><rect x="879.8" y="1155.6" width="3" height="3"/><rect x="864.8" y="1160.1" width="3" height="3"/><rect x="870.8" y="1160.1" width="3" height="3"/><rect x="876.8" y="1160.1" width="3" height="3"/><rect x="861.8" y="1164.6" width="3" height="3"/><rect x="867.8" y="1164.6" width="3" height="3"/><rect x="873.8" y="1164.6" width="3" height="3"/><rect x="879.8" y="1164.6" width="3" height="3"/><rect x="867.8" y="1169.1" width="3" height="3"/><rect x="873.8" y="1169.1" width="3" height="3"/></g>
<text transform="translate(904.7,1180.8) scale(1,1.165)" text-anchor="start" font-family="Liberation Serif, Times New Roman, serif" font-weight="bold" font-size="64" fill="#000">MC-RU/S #2</text>
<ellipse cx="1359.6" cy="1161.6" rx="21.4" ry="24.4" fill="#FF0000"/>
<text transform="translate(1391.8,1180.8) scale(1,1.165)" text-anchor="start" font-family="Liberation Serif, Times New Roman, serif" font-weight="bold" font-size="64" fill="#000">MC-RU/S #3</text>
</g>
</svg></body></html>
